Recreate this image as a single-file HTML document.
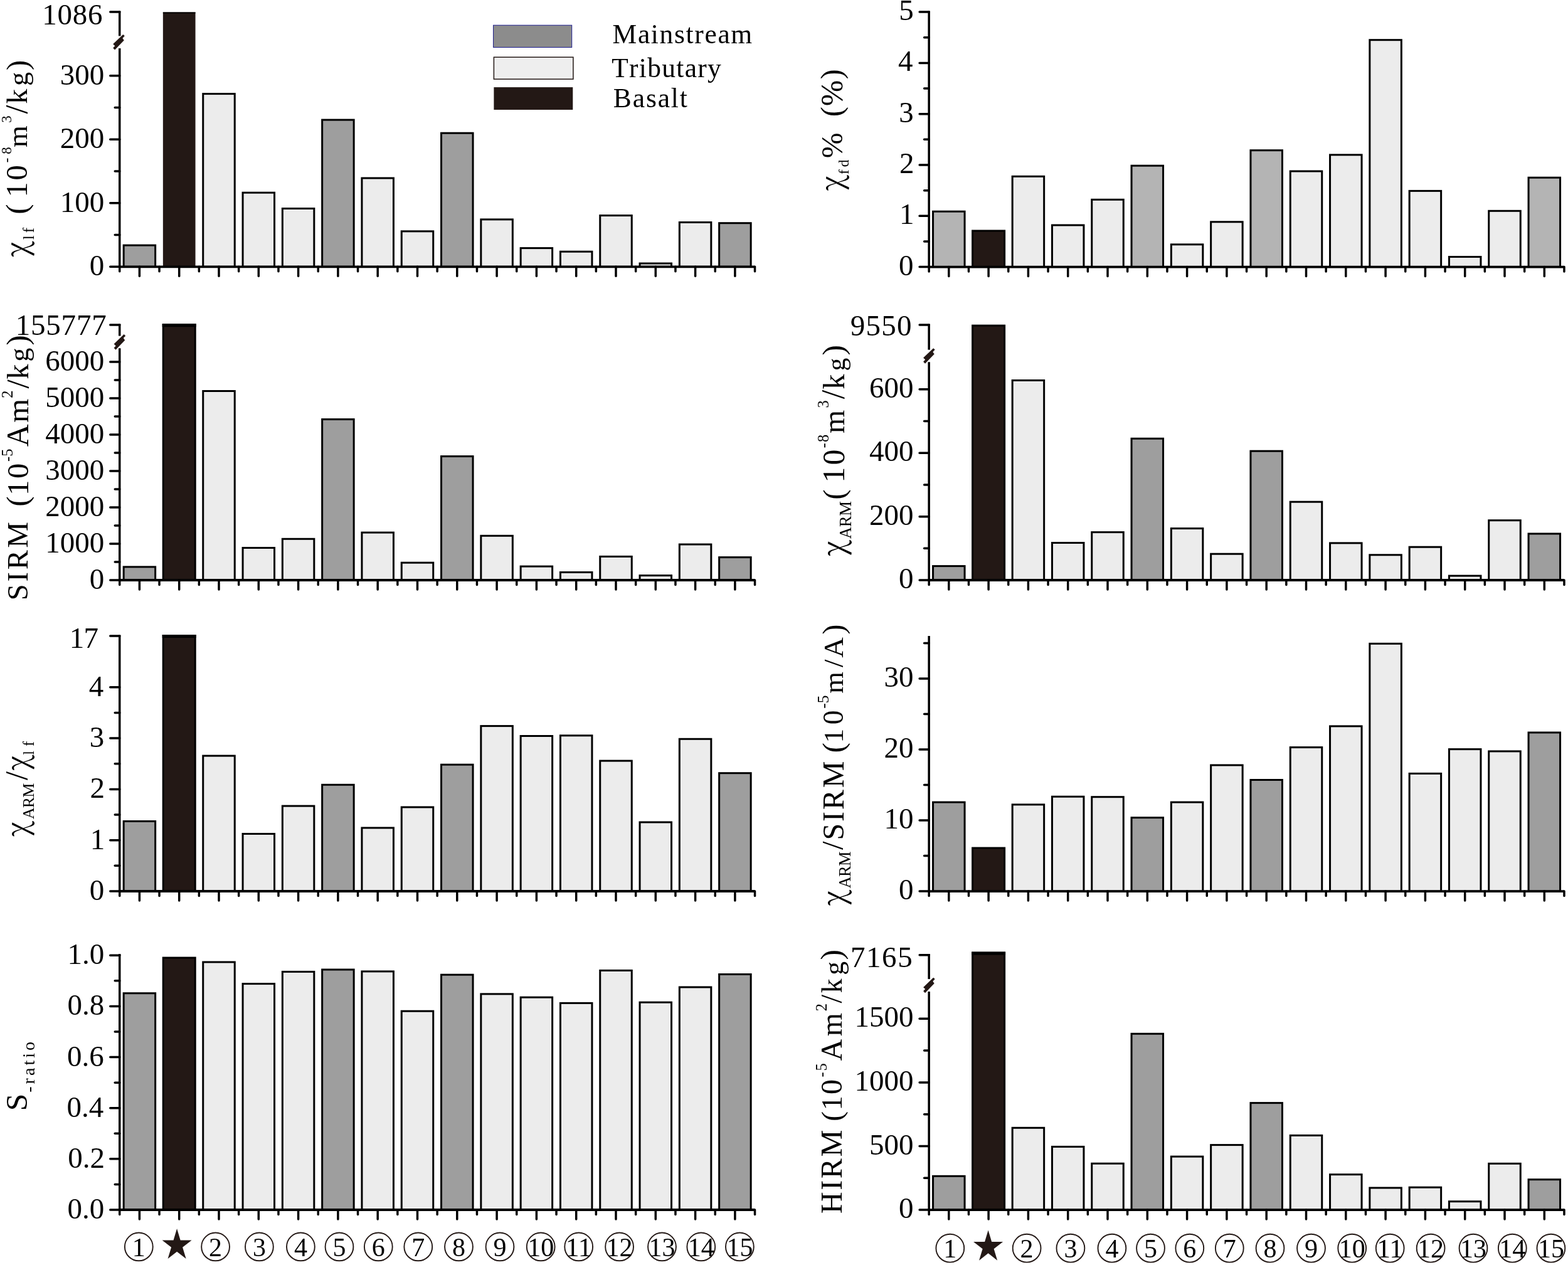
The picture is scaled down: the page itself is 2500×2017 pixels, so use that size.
<!DOCTYPE html>
<html><head><meta charset="utf-8"><title>Magnetic parameters</title>
<style>html,body{margin:0;padding:0;background:#fff;overflow:hidden;width:2500px;height:2017px}svg{display:block}text{font-family:'Liberation Serif', 'Times New Roman', serif;fill:#000}</style>
</head><body>
<svg xmlns="http://www.w3.org/2000/svg" width="2500" height="2017" viewBox="0 0 2500 2017">
<rect width="2500" height="2017" fill="#fff"/>
<rect x="197.15" y="391.10" width="50.5" height="34.25" fill="#9e9e9e" stroke="#000" stroke-width="3"/>
<rect x="259.85" y="19.50" width="51.7" height="405.85" fill="#231815"/>
<rect x="259.85" y="19.50" width="51.7" height="1.8" fill="#000"/>
<rect x="323.75" y="149.60" width="50.5" height="275.75" fill="#ececec" stroke="#000" stroke-width="3"/>
<rect x="387.05" y="307.20" width="50.5" height="118.15" fill="#ececec" stroke="#000" stroke-width="3"/>
<rect x="450.35" y="332.50" width="50.5" height="92.85" fill="#ececec" stroke="#000" stroke-width="3"/>
<rect x="513.65" y="191.10" width="50.5" height="234.25" fill="#9e9e9e" stroke="#000" stroke-width="3"/>
<rect x="576.95" y="284.00" width="50.5" height="141.35" fill="#ececec" stroke="#000" stroke-width="3"/>
<rect x="640.25" y="368.80" width="50.5" height="56.55" fill="#ececec" stroke="#000" stroke-width="3"/>
<rect x="703.55" y="212.20" width="50.5" height="213.15" fill="#9e9e9e" stroke="#000" stroke-width="3"/>
<rect x="766.85" y="349.90" width="50.5" height="75.45" fill="#ececec" stroke="#000" stroke-width="3"/>
<rect x="830.15" y="395.60" width="50.5" height="29.75" fill="#ececec" stroke="#000" stroke-width="3"/>
<rect x="893.45" y="401.20" width="50.5" height="24.15" fill="#ececec" stroke="#000" stroke-width="3"/>
<rect x="956.75" y="343.60" width="50.5" height="81.75" fill="#ececec" stroke="#000" stroke-width="3"/>
<rect x="1020.05" y="420.00" width="50.5" height="5.35" fill="#ececec" stroke="#000" stroke-width="3"/>
<rect x="1083.35" y="354.50" width="50.5" height="70.85" fill="#ececec" stroke="#000" stroke-width="3"/>
<rect x="1146.65" y="355.70" width="50.5" height="69.65" fill="#9e9e9e" stroke="#000" stroke-width="3"/>
<line x1="190.75" y1="425.35" x2="1203.55" y2="425.35" stroke="#000" stroke-width="3.9" stroke-linecap="butt"/>
<line x1="190.75" y1="425.35" x2="190.75" y2="432.85" stroke="#000" stroke-width="3.5" stroke-linecap="round"/>
<line x1="254.05" y1="425.35" x2="254.05" y2="432.85" stroke="#000" stroke-width="3.5" stroke-linecap="round"/>
<line x1="317.35" y1="425.35" x2="317.35" y2="432.85" stroke="#000" stroke-width="3.5" stroke-linecap="round"/>
<line x1="380.65" y1="425.35" x2="380.65" y2="432.85" stroke="#000" stroke-width="3.5" stroke-linecap="round"/>
<line x1="443.95" y1="425.35" x2="443.95" y2="432.85" stroke="#000" stroke-width="3.5" stroke-linecap="round"/>
<line x1="507.25" y1="425.35" x2="507.25" y2="432.85" stroke="#000" stroke-width="3.5" stroke-linecap="round"/>
<line x1="570.55" y1="425.35" x2="570.55" y2="432.85" stroke="#000" stroke-width="3.5" stroke-linecap="round"/>
<line x1="633.85" y1="425.35" x2="633.85" y2="432.85" stroke="#000" stroke-width="3.5" stroke-linecap="round"/>
<line x1="697.15" y1="425.35" x2="697.15" y2="432.85" stroke="#000" stroke-width="3.5" stroke-linecap="round"/>
<line x1="760.45" y1="425.35" x2="760.45" y2="432.85" stroke="#000" stroke-width="3.5" stroke-linecap="round"/>
<line x1="823.75" y1="425.35" x2="823.75" y2="432.85" stroke="#000" stroke-width="3.5" stroke-linecap="round"/>
<line x1="887.05" y1="425.35" x2="887.05" y2="432.85" stroke="#000" stroke-width="3.5" stroke-linecap="round"/>
<line x1="950.35" y1="425.35" x2="950.35" y2="432.85" stroke="#000" stroke-width="3.5" stroke-linecap="round"/>
<line x1="1013.65" y1="425.35" x2="1013.65" y2="432.85" stroke="#000" stroke-width="3.5" stroke-linecap="round"/>
<line x1="1076.95" y1="425.35" x2="1076.95" y2="432.85" stroke="#000" stroke-width="3.5" stroke-linecap="round"/>
<line x1="1140.25" y1="425.35" x2="1140.25" y2="432.85" stroke="#000" stroke-width="3.5" stroke-linecap="round"/>
<line x1="1203.55" y1="425.35" x2="1203.55" y2="432.85" stroke="#000" stroke-width="3.5" stroke-linecap="round"/>
<line x1="222.40" y1="425.35" x2="222.40" y2="440.35" stroke="#000" stroke-width="3.5" stroke-linecap="round"/>
<line x1="285.70" y1="425.35" x2="285.70" y2="440.35" stroke="#000" stroke-width="3.5" stroke-linecap="round"/>
<line x1="349.00" y1="425.35" x2="349.00" y2="440.35" stroke="#000" stroke-width="3.5" stroke-linecap="round"/>
<line x1="412.30" y1="425.35" x2="412.30" y2="440.35" stroke="#000" stroke-width="3.5" stroke-linecap="round"/>
<line x1="475.60" y1="425.35" x2="475.60" y2="440.35" stroke="#000" stroke-width="3.5" stroke-linecap="round"/>
<line x1="538.90" y1="425.35" x2="538.90" y2="440.35" stroke="#000" stroke-width="3.5" stroke-linecap="round"/>
<line x1="602.20" y1="425.35" x2="602.20" y2="440.35" stroke="#000" stroke-width="3.5" stroke-linecap="round"/>
<line x1="665.50" y1="425.35" x2="665.50" y2="440.35" stroke="#000" stroke-width="3.5" stroke-linecap="round"/>
<line x1="728.80" y1="425.35" x2="728.80" y2="440.35" stroke="#000" stroke-width="3.5" stroke-linecap="round"/>
<line x1="792.10" y1="425.35" x2="792.10" y2="440.35" stroke="#000" stroke-width="3.5" stroke-linecap="round"/>
<line x1="855.40" y1="425.35" x2="855.40" y2="440.35" stroke="#000" stroke-width="3.5" stroke-linecap="round"/>
<line x1="918.70" y1="425.35" x2="918.70" y2="440.35" stroke="#000" stroke-width="3.5" stroke-linecap="round"/>
<line x1="982.00" y1="425.35" x2="982.00" y2="440.35" stroke="#000" stroke-width="3.5" stroke-linecap="round"/>
<line x1="1045.30" y1="425.35" x2="1045.30" y2="440.35" stroke="#000" stroke-width="3.5" stroke-linecap="round"/>
<line x1="1108.60" y1="425.35" x2="1108.60" y2="440.35" stroke="#000" stroke-width="3.5" stroke-linecap="round"/>
<line x1="1171.90" y1="425.35" x2="1171.90" y2="440.35" stroke="#000" stroke-width="3.5" stroke-linecap="round"/>
<line x1="190.75" y1="17.50" x2="190.75" y2="57.40" stroke="#000" stroke-width="3.5" stroke-linecap="butt"/>
<line x1="190.75" y1="77.00" x2="190.75" y2="425.35" stroke="#000" stroke-width="3.5" stroke-linecap="butt"/>
<polygon points="196.20,54.90 198.80,57.20 195.40,60.90 197.80,64.20 183.10,79.50 180.20,76.50 183.30,73.20 180.20,70.30" fill="#231815"/>
<line x1="175.75" y1="425.35" x2="190.75" y2="425.35" stroke="#000" stroke-width="3.5" stroke-linecap="round"/>
<line x1="175.75" y1="323.83" x2="190.75" y2="323.83" stroke="#000" stroke-width="3.5" stroke-linecap="round"/>
<line x1="175.75" y1="222.32" x2="190.75" y2="222.32" stroke="#000" stroke-width="3.5" stroke-linecap="round"/>
<line x1="175.75" y1="120.80" x2="190.75" y2="120.80" stroke="#000" stroke-width="3.5" stroke-linecap="round"/>
<line x1="175.75" y1="19.00" x2="190.75" y2="19.00" stroke="#000" stroke-width="3.5" stroke-linecap="round"/>
<line x1="183.25" y1="374.59" x2="190.75" y2="374.59" stroke="#000" stroke-width="3.5" stroke-linecap="round"/>
<line x1="183.25" y1="273.08" x2="190.75" y2="273.08" stroke="#000" stroke-width="3.5" stroke-linecap="round"/>
<line x1="183.25" y1="171.56" x2="190.75" y2="171.56" stroke="#000" stroke-width="3.5" stroke-linecap="round"/>
<text x="142.69" y="439.35" font-size="47" fill="#000">0</text>
<text x="95.69" y="337.83" font-size="47" fill="#000">100</text>
<text x="95.69" y="236.32" font-size="47" fill="#000">200</text>
<text x="95.69" y="134.80" font-size="47" fill="#000">300</text>
<text x="67.27 91.51 115.76 140.00" y="39.40" font-size="47.00" style="font-family:'Liberation Serif', serif" fill="#231815">1086</text>
<rect x="197.15" y="903.90" width="50.5" height="21.15" fill="#9e9e9e" stroke="#000" stroke-width="3"/>
<rect x="260.20" y="517.70" width="51" height="407.35" fill="#231815" stroke="#000" stroke-width="3"/>
<rect x="258.70" y="516.20" width="54" height="5" fill="#000"/>
<rect x="323.75" y="623.50" width="50.5" height="301.55" fill="#ececec" stroke="#000" stroke-width="3"/>
<rect x="387.05" y="873.50" width="50.5" height="51.55" fill="#ececec" stroke="#000" stroke-width="3"/>
<rect x="450.35" y="859.30" width="50.5" height="65.75" fill="#ececec" stroke="#000" stroke-width="3"/>
<rect x="513.65" y="668.60" width="50.5" height="256.45" fill="#9e9e9e" stroke="#000" stroke-width="3"/>
<rect x="576.95" y="849.10" width="50.5" height="75.95" fill="#ececec" stroke="#000" stroke-width="3"/>
<rect x="640.25" y="897.20" width="50.5" height="27.85" fill="#ececec" stroke="#000" stroke-width="3"/>
<rect x="703.55" y="727.60" width="50.5" height="197.45" fill="#9e9e9e" stroke="#000" stroke-width="3"/>
<rect x="766.85" y="854.30" width="50.5" height="70.75" fill="#ececec" stroke="#000" stroke-width="3"/>
<rect x="830.15" y="903.10" width="50.5" height="21.95" fill="#ececec" stroke="#000" stroke-width="3"/>
<rect x="893.45" y="912.50" width="50.5" height="12.55" fill="#ececec" stroke="#000" stroke-width="3"/>
<rect x="956.75" y="887.40" width="50.5" height="37.65" fill="#ececec" stroke="#000" stroke-width="3"/>
<rect x="1020.05" y="917.60" width="50.5" height="7.45" fill="#ececec" stroke="#000" stroke-width="3"/>
<rect x="1083.35" y="868.00" width="50.5" height="57.05" fill="#ececec" stroke="#000" stroke-width="3"/>
<rect x="1146.65" y="888.60" width="50.5" height="36.45" fill="#9e9e9e" stroke="#000" stroke-width="3"/>
<line x1="190.75" y1="925.05" x2="1203.55" y2="925.05" stroke="#000" stroke-width="3.9" stroke-linecap="butt"/>
<line x1="190.75" y1="925.05" x2="190.75" y2="932.55" stroke="#000" stroke-width="3.5" stroke-linecap="round"/>
<line x1="254.05" y1="925.05" x2="254.05" y2="932.55" stroke="#000" stroke-width="3.5" stroke-linecap="round"/>
<line x1="317.35" y1="925.05" x2="317.35" y2="932.55" stroke="#000" stroke-width="3.5" stroke-linecap="round"/>
<line x1="380.65" y1="925.05" x2="380.65" y2="932.55" stroke="#000" stroke-width="3.5" stroke-linecap="round"/>
<line x1="443.95" y1="925.05" x2="443.95" y2="932.55" stroke="#000" stroke-width="3.5" stroke-linecap="round"/>
<line x1="507.25" y1="925.05" x2="507.25" y2="932.55" stroke="#000" stroke-width="3.5" stroke-linecap="round"/>
<line x1="570.55" y1="925.05" x2="570.55" y2="932.55" stroke="#000" stroke-width="3.5" stroke-linecap="round"/>
<line x1="633.85" y1="925.05" x2="633.85" y2="932.55" stroke="#000" stroke-width="3.5" stroke-linecap="round"/>
<line x1="697.15" y1="925.05" x2="697.15" y2="932.55" stroke="#000" stroke-width="3.5" stroke-linecap="round"/>
<line x1="760.45" y1="925.05" x2="760.45" y2="932.55" stroke="#000" stroke-width="3.5" stroke-linecap="round"/>
<line x1="823.75" y1="925.05" x2="823.75" y2="932.55" stroke="#000" stroke-width="3.5" stroke-linecap="round"/>
<line x1="887.05" y1="925.05" x2="887.05" y2="932.55" stroke="#000" stroke-width="3.5" stroke-linecap="round"/>
<line x1="950.35" y1="925.05" x2="950.35" y2="932.55" stroke="#000" stroke-width="3.5" stroke-linecap="round"/>
<line x1="1013.65" y1="925.05" x2="1013.65" y2="932.55" stroke="#000" stroke-width="3.5" stroke-linecap="round"/>
<line x1="1076.95" y1="925.05" x2="1076.95" y2="932.55" stroke="#000" stroke-width="3.5" stroke-linecap="round"/>
<line x1="1140.25" y1="925.05" x2="1140.25" y2="932.55" stroke="#000" stroke-width="3.5" stroke-linecap="round"/>
<line x1="1203.55" y1="925.05" x2="1203.55" y2="932.55" stroke="#000" stroke-width="3.5" stroke-linecap="round"/>
<line x1="222.40" y1="925.05" x2="222.40" y2="940.05" stroke="#000" stroke-width="3.5" stroke-linecap="round"/>
<line x1="285.70" y1="925.05" x2="285.70" y2="940.05" stroke="#000" stroke-width="3.5" stroke-linecap="round"/>
<line x1="349.00" y1="925.05" x2="349.00" y2="940.05" stroke="#000" stroke-width="3.5" stroke-linecap="round"/>
<line x1="412.30" y1="925.05" x2="412.30" y2="940.05" stroke="#000" stroke-width="3.5" stroke-linecap="round"/>
<line x1="475.60" y1="925.05" x2="475.60" y2="940.05" stroke="#000" stroke-width="3.5" stroke-linecap="round"/>
<line x1="538.90" y1="925.05" x2="538.90" y2="940.05" stroke="#000" stroke-width="3.5" stroke-linecap="round"/>
<line x1="602.20" y1="925.05" x2="602.20" y2="940.05" stroke="#000" stroke-width="3.5" stroke-linecap="round"/>
<line x1="665.50" y1="925.05" x2="665.50" y2="940.05" stroke="#000" stroke-width="3.5" stroke-linecap="round"/>
<line x1="728.80" y1="925.05" x2="728.80" y2="940.05" stroke="#000" stroke-width="3.5" stroke-linecap="round"/>
<line x1="792.10" y1="925.05" x2="792.10" y2="940.05" stroke="#000" stroke-width="3.5" stroke-linecap="round"/>
<line x1="855.40" y1="925.05" x2="855.40" y2="940.05" stroke="#000" stroke-width="3.5" stroke-linecap="round"/>
<line x1="918.70" y1="925.05" x2="918.70" y2="940.05" stroke="#000" stroke-width="3.5" stroke-linecap="round"/>
<line x1="982.00" y1="925.05" x2="982.00" y2="940.05" stroke="#000" stroke-width="3.5" stroke-linecap="round"/>
<line x1="1045.30" y1="925.05" x2="1045.30" y2="940.05" stroke="#000" stroke-width="3.5" stroke-linecap="round"/>
<line x1="1108.60" y1="925.05" x2="1108.60" y2="940.05" stroke="#000" stroke-width="3.5" stroke-linecap="round"/>
<line x1="1171.90" y1="925.05" x2="1171.90" y2="940.05" stroke="#000" stroke-width="3.5" stroke-linecap="round"/>
<line x1="190.75" y1="516.50" x2="190.75" y2="535.60" stroke="#000" stroke-width="3.5" stroke-linecap="butt"/>
<line x1="190.75" y1="555.20" x2="190.75" y2="925.05" stroke="#000" stroke-width="3.5" stroke-linecap="butt"/>
<polygon points="197.60,533.10 200.20,535.40 196.80,539.10 199.20,542.40 184.50,557.70 181.60,554.70 184.70,551.40 181.60,548.50" fill="#231815"/>
<line x1="175.75" y1="925.05" x2="190.75" y2="925.05" stroke="#000" stroke-width="3.5" stroke-linecap="round"/>
<line x1="175.75" y1="867.05" x2="190.75" y2="867.05" stroke="#000" stroke-width="3.5" stroke-linecap="round"/>
<line x1="175.75" y1="809.05" x2="190.75" y2="809.05" stroke="#000" stroke-width="3.5" stroke-linecap="round"/>
<line x1="175.75" y1="751.05" x2="190.75" y2="751.05" stroke="#000" stroke-width="3.5" stroke-linecap="round"/>
<line x1="175.75" y1="693.05" x2="190.75" y2="693.05" stroke="#000" stroke-width="3.5" stroke-linecap="round"/>
<line x1="175.75" y1="635.05" x2="190.75" y2="635.05" stroke="#000" stroke-width="3.5" stroke-linecap="round"/>
<line x1="175.75" y1="577.05" x2="190.75" y2="577.05" stroke="#000" stroke-width="3.5" stroke-linecap="round"/>
<line x1="175.75" y1="518.10" x2="190.75" y2="518.10" stroke="#000" stroke-width="3.5" stroke-linecap="round"/>
<line x1="183.25" y1="896.05" x2="190.75" y2="896.05" stroke="#000" stroke-width="3.5" stroke-linecap="round"/>
<line x1="183.25" y1="838.05" x2="190.75" y2="838.05" stroke="#000" stroke-width="3.5" stroke-linecap="round"/>
<line x1="183.25" y1="780.05" x2="190.75" y2="780.05" stroke="#000" stroke-width="3.5" stroke-linecap="round"/>
<line x1="183.25" y1="722.05" x2="190.75" y2="722.05" stroke="#000" stroke-width="3.5" stroke-linecap="round"/>
<line x1="183.25" y1="664.05" x2="190.75" y2="664.05" stroke="#000" stroke-width="3.5" stroke-linecap="round"/>
<line x1="183.25" y1="606.05" x2="190.75" y2="606.05" stroke="#000" stroke-width="3.5" stroke-linecap="round"/>
<text x="142.69" y="939.05" font-size="47" fill="#000">0</text>
<text x="72.19" y="881.05" font-size="47" fill="#000">1000</text>
<text x="72.19" y="823.05" font-size="47" fill="#000">2000</text>
<text x="72.19" y="765.05" font-size="47" fill="#000">3000</text>
<text x="72.19" y="707.05" font-size="47" fill="#000">4000</text>
<text x="72.19" y="649.05" font-size="47" fill="#000">5000</text>
<text x="72.19" y="591.05" font-size="47" fill="#000">6000</text>
<text x="24.67 48.99 73.30 97.62 121.94 146.25" y="533.90" font-size="47.00" style="font-family:'Liberation Serif', serif" fill="#231815">155777</text>
<rect x="197.15" y="1309.50" width="50.5" height="111.50" fill="#9e9e9e" stroke="#000" stroke-width="3"/>
<rect x="260.20" y="1013.50" width="51" height="407.50" fill="#231815" stroke="#000" stroke-width="3"/>
<rect x="258.70" y="1012.00" width="54" height="5" fill="#000"/>
<rect x="323.75" y="1205.10" width="50.5" height="215.90" fill="#ececec" stroke="#000" stroke-width="3"/>
<rect x="387.05" y="1329.50" width="50.5" height="91.50" fill="#ececec" stroke="#000" stroke-width="3"/>
<rect x="450.35" y="1285.10" width="50.5" height="135.90" fill="#ececec" stroke="#000" stroke-width="3"/>
<rect x="513.65" y="1251.30" width="50.5" height="169.70" fill="#9e9e9e" stroke="#000" stroke-width="3"/>
<rect x="576.95" y="1320.00" width="50.5" height="101.00" fill="#ececec" stroke="#000" stroke-width="3"/>
<rect x="640.25" y="1287.00" width="50.5" height="134.00" fill="#ececec" stroke="#000" stroke-width="3"/>
<rect x="703.55" y="1219.20" width="50.5" height="201.80" fill="#9e9e9e" stroke="#000" stroke-width="3"/>
<rect x="766.85" y="1157.60" width="50.5" height="263.40" fill="#ececec" stroke="#000" stroke-width="3"/>
<rect x="830.15" y="1173.50" width="50.5" height="247.50" fill="#ececec" stroke="#000" stroke-width="3"/>
<rect x="893.45" y="1172.80" width="50.5" height="248.20" fill="#ececec" stroke="#000" stroke-width="3"/>
<rect x="956.75" y="1213.10" width="50.5" height="207.90" fill="#ececec" stroke="#000" stroke-width="3"/>
<rect x="1020.05" y="1311.00" width="50.5" height="110.00" fill="#ececec" stroke="#000" stroke-width="3"/>
<rect x="1083.35" y="1178.30" width="50.5" height="242.70" fill="#ececec" stroke="#000" stroke-width="3"/>
<rect x="1146.65" y="1232.70" width="50.5" height="188.30" fill="#9e9e9e" stroke="#000" stroke-width="3"/>
<line x1="190.75" y1="1421.00" x2="1203.55" y2="1421.00" stroke="#000" stroke-width="3.9" stroke-linecap="butt"/>
<line x1="190.75" y1="1421.00" x2="190.75" y2="1428.50" stroke="#000" stroke-width="3.5" stroke-linecap="round"/>
<line x1="254.05" y1="1421.00" x2="254.05" y2="1428.50" stroke="#000" stroke-width="3.5" stroke-linecap="round"/>
<line x1="317.35" y1="1421.00" x2="317.35" y2="1428.50" stroke="#000" stroke-width="3.5" stroke-linecap="round"/>
<line x1="380.65" y1="1421.00" x2="380.65" y2="1428.50" stroke="#000" stroke-width="3.5" stroke-linecap="round"/>
<line x1="443.95" y1="1421.00" x2="443.95" y2="1428.50" stroke="#000" stroke-width="3.5" stroke-linecap="round"/>
<line x1="507.25" y1="1421.00" x2="507.25" y2="1428.50" stroke="#000" stroke-width="3.5" stroke-linecap="round"/>
<line x1="570.55" y1="1421.00" x2="570.55" y2="1428.50" stroke="#000" stroke-width="3.5" stroke-linecap="round"/>
<line x1="633.85" y1="1421.00" x2="633.85" y2="1428.50" stroke="#000" stroke-width="3.5" stroke-linecap="round"/>
<line x1="697.15" y1="1421.00" x2="697.15" y2="1428.50" stroke="#000" stroke-width="3.5" stroke-linecap="round"/>
<line x1="760.45" y1="1421.00" x2="760.45" y2="1428.50" stroke="#000" stroke-width="3.5" stroke-linecap="round"/>
<line x1="823.75" y1="1421.00" x2="823.75" y2="1428.50" stroke="#000" stroke-width="3.5" stroke-linecap="round"/>
<line x1="887.05" y1="1421.00" x2="887.05" y2="1428.50" stroke="#000" stroke-width="3.5" stroke-linecap="round"/>
<line x1="950.35" y1="1421.00" x2="950.35" y2="1428.50" stroke="#000" stroke-width="3.5" stroke-linecap="round"/>
<line x1="1013.65" y1="1421.00" x2="1013.65" y2="1428.50" stroke="#000" stroke-width="3.5" stroke-linecap="round"/>
<line x1="1076.95" y1="1421.00" x2="1076.95" y2="1428.50" stroke="#000" stroke-width="3.5" stroke-linecap="round"/>
<line x1="1140.25" y1="1421.00" x2="1140.25" y2="1428.50" stroke="#000" stroke-width="3.5" stroke-linecap="round"/>
<line x1="1203.55" y1="1421.00" x2="1203.55" y2="1428.50" stroke="#000" stroke-width="3.5" stroke-linecap="round"/>
<line x1="222.40" y1="1421.00" x2="222.40" y2="1436.00" stroke="#000" stroke-width="3.5" stroke-linecap="round"/>
<line x1="285.70" y1="1421.00" x2="285.70" y2="1436.00" stroke="#000" stroke-width="3.5" stroke-linecap="round"/>
<line x1="349.00" y1="1421.00" x2="349.00" y2="1436.00" stroke="#000" stroke-width="3.5" stroke-linecap="round"/>
<line x1="412.30" y1="1421.00" x2="412.30" y2="1436.00" stroke="#000" stroke-width="3.5" stroke-linecap="round"/>
<line x1="475.60" y1="1421.00" x2="475.60" y2="1436.00" stroke="#000" stroke-width="3.5" stroke-linecap="round"/>
<line x1="538.90" y1="1421.00" x2="538.90" y2="1436.00" stroke="#000" stroke-width="3.5" stroke-linecap="round"/>
<line x1="602.20" y1="1421.00" x2="602.20" y2="1436.00" stroke="#000" stroke-width="3.5" stroke-linecap="round"/>
<line x1="665.50" y1="1421.00" x2="665.50" y2="1436.00" stroke="#000" stroke-width="3.5" stroke-linecap="round"/>
<line x1="728.80" y1="1421.00" x2="728.80" y2="1436.00" stroke="#000" stroke-width="3.5" stroke-linecap="round"/>
<line x1="792.10" y1="1421.00" x2="792.10" y2="1436.00" stroke="#000" stroke-width="3.5" stroke-linecap="round"/>
<line x1="855.40" y1="1421.00" x2="855.40" y2="1436.00" stroke="#000" stroke-width="3.5" stroke-linecap="round"/>
<line x1="918.70" y1="1421.00" x2="918.70" y2="1436.00" stroke="#000" stroke-width="3.5" stroke-linecap="round"/>
<line x1="982.00" y1="1421.00" x2="982.00" y2="1436.00" stroke="#000" stroke-width="3.5" stroke-linecap="round"/>
<line x1="1045.30" y1="1421.00" x2="1045.30" y2="1436.00" stroke="#000" stroke-width="3.5" stroke-linecap="round"/>
<line x1="1108.60" y1="1421.00" x2="1108.60" y2="1436.00" stroke="#000" stroke-width="3.5" stroke-linecap="round"/>
<line x1="1171.90" y1="1421.00" x2="1171.90" y2="1436.00" stroke="#000" stroke-width="3.5" stroke-linecap="round"/>
<line x1="190.75" y1="1012.50" x2="190.75" y2="1421.00" stroke="#000" stroke-width="3.5" stroke-linecap="butt"/>
<line x1="175.75" y1="1421.00" x2="190.75" y2="1421.00" stroke="#000" stroke-width="3.5" stroke-linecap="round"/>
<line x1="175.75" y1="1339.70" x2="190.75" y2="1339.70" stroke="#000" stroke-width="3.5" stroke-linecap="round"/>
<line x1="175.75" y1="1258.40" x2="190.75" y2="1258.40" stroke="#000" stroke-width="3.5" stroke-linecap="round"/>
<line x1="175.75" y1="1177.10" x2="190.75" y2="1177.10" stroke="#000" stroke-width="3.5" stroke-linecap="round"/>
<line x1="175.75" y1="1095.80" x2="190.75" y2="1095.80" stroke="#000" stroke-width="3.5" stroke-linecap="round"/>
<line x1="175.75" y1="1014.10" x2="190.75" y2="1014.10" stroke="#000" stroke-width="3.5" stroke-linecap="round"/>
<line x1="183.25" y1="1380.35" x2="190.75" y2="1380.35" stroke="#000" stroke-width="3.5" stroke-linecap="round"/>
<line x1="183.25" y1="1299.05" x2="190.75" y2="1299.05" stroke="#000" stroke-width="3.5" stroke-linecap="round"/>
<line x1="183.25" y1="1217.75" x2="190.75" y2="1217.75" stroke="#000" stroke-width="3.5" stroke-linecap="round"/>
<line x1="183.25" y1="1136.45" x2="190.75" y2="1136.45" stroke="#000" stroke-width="3.5" stroke-linecap="round"/>
<text x="142.69" y="1435.00" font-size="47" fill="#000">0</text>
<text x="143.72" y="1353.70" font-size="47" fill="#000">1</text>
<text x="143.49" y="1272.40" font-size="47" fill="#000">2</text>
<text x="142.74" y="1191.10" font-size="47" fill="#000">3</text>
<text x="141.63" y="1109.80" font-size="47" fill="#000">4</text>
<text x="110.67 133.55" y="1032.70" font-size="47.00" style="font-family:'Liberation Serif', serif" fill="#231815">17</text>
<rect x="197.15" y="1583.70" width="50.5" height="345.30" fill="#9e9e9e" stroke="#000" stroke-width="3"/>
<rect x="260.20" y="1527.10" width="51" height="401.90" fill="#231815" stroke="#000" stroke-width="3"/>
<rect x="323.75" y="1534.00" width="50.5" height="395.00" fill="#ececec" stroke="#000" stroke-width="3"/>
<rect x="387.05" y="1568.60" width="50.5" height="360.40" fill="#ececec" stroke="#000" stroke-width="3"/>
<rect x="450.35" y="1549.40" width="50.5" height="379.60" fill="#ececec" stroke="#000" stroke-width="3"/>
<rect x="513.65" y="1546.00" width="50.5" height="383.00" fill="#9e9e9e" stroke="#000" stroke-width="3"/>
<rect x="576.95" y="1548.90" width="50.5" height="380.10" fill="#ececec" stroke="#000" stroke-width="3"/>
<rect x="640.25" y="1612.20" width="50.5" height="316.80" fill="#ececec" stroke="#000" stroke-width="3"/>
<rect x="703.55" y="1554.20" width="50.5" height="374.80" fill="#9e9e9e" stroke="#000" stroke-width="3"/>
<rect x="766.85" y="1584.90" width="50.5" height="344.10" fill="#ececec" stroke="#000" stroke-width="3"/>
<rect x="830.15" y="1590.20" width="50.5" height="338.80" fill="#ececec" stroke="#000" stroke-width="3"/>
<rect x="893.45" y="1599.40" width="50.5" height="329.60" fill="#ececec" stroke="#000" stroke-width="3"/>
<rect x="956.75" y="1547.40" width="50.5" height="381.60" fill="#ececec" stroke="#000" stroke-width="3"/>
<rect x="1020.05" y="1598.20" width="50.5" height="330.80" fill="#ececec" stroke="#000" stroke-width="3"/>
<rect x="1083.35" y="1574.00" width="50.5" height="355.00" fill="#ececec" stroke="#000" stroke-width="3"/>
<rect x="1146.65" y="1553.50" width="50.5" height="375.50" fill="#9e9e9e" stroke="#000" stroke-width="3"/>
<line x1="190.75" y1="1929.00" x2="1203.55" y2="1929.00" stroke="#000" stroke-width="3.9" stroke-linecap="butt"/>
<line x1="190.75" y1="1929.00" x2="190.75" y2="1936.50" stroke="#000" stroke-width="3.5" stroke-linecap="round"/>
<line x1="254.05" y1="1929.00" x2="254.05" y2="1936.50" stroke="#000" stroke-width="3.5" stroke-linecap="round"/>
<line x1="317.35" y1="1929.00" x2="317.35" y2="1936.50" stroke="#000" stroke-width="3.5" stroke-linecap="round"/>
<line x1="380.65" y1="1929.00" x2="380.65" y2="1936.50" stroke="#000" stroke-width="3.5" stroke-linecap="round"/>
<line x1="443.95" y1="1929.00" x2="443.95" y2="1936.50" stroke="#000" stroke-width="3.5" stroke-linecap="round"/>
<line x1="507.25" y1="1929.00" x2="507.25" y2="1936.50" stroke="#000" stroke-width="3.5" stroke-linecap="round"/>
<line x1="570.55" y1="1929.00" x2="570.55" y2="1936.50" stroke="#000" stroke-width="3.5" stroke-linecap="round"/>
<line x1="633.85" y1="1929.00" x2="633.85" y2="1936.50" stroke="#000" stroke-width="3.5" stroke-linecap="round"/>
<line x1="697.15" y1="1929.00" x2="697.15" y2="1936.50" stroke="#000" stroke-width="3.5" stroke-linecap="round"/>
<line x1="760.45" y1="1929.00" x2="760.45" y2="1936.50" stroke="#000" stroke-width="3.5" stroke-linecap="round"/>
<line x1="823.75" y1="1929.00" x2="823.75" y2="1936.50" stroke="#000" stroke-width="3.5" stroke-linecap="round"/>
<line x1="887.05" y1="1929.00" x2="887.05" y2="1936.50" stroke="#000" stroke-width="3.5" stroke-linecap="round"/>
<line x1="950.35" y1="1929.00" x2="950.35" y2="1936.50" stroke="#000" stroke-width="3.5" stroke-linecap="round"/>
<line x1="1013.65" y1="1929.00" x2="1013.65" y2="1936.50" stroke="#000" stroke-width="3.5" stroke-linecap="round"/>
<line x1="1076.95" y1="1929.00" x2="1076.95" y2="1936.50" stroke="#000" stroke-width="3.5" stroke-linecap="round"/>
<line x1="1140.25" y1="1929.00" x2="1140.25" y2="1936.50" stroke="#000" stroke-width="3.5" stroke-linecap="round"/>
<line x1="1203.55" y1="1929.00" x2="1203.55" y2="1936.50" stroke="#000" stroke-width="3.5" stroke-linecap="round"/>
<line x1="222.40" y1="1929.00" x2="222.40" y2="1944.00" stroke="#000" stroke-width="3.5" stroke-linecap="round"/>
<line x1="285.70" y1="1929.00" x2="285.70" y2="1944.00" stroke="#000" stroke-width="3.5" stroke-linecap="round"/>
<line x1="349.00" y1="1929.00" x2="349.00" y2="1944.00" stroke="#000" stroke-width="3.5" stroke-linecap="round"/>
<line x1="412.30" y1="1929.00" x2="412.30" y2="1944.00" stroke="#000" stroke-width="3.5" stroke-linecap="round"/>
<line x1="475.60" y1="1929.00" x2="475.60" y2="1944.00" stroke="#000" stroke-width="3.5" stroke-linecap="round"/>
<line x1="538.90" y1="1929.00" x2="538.90" y2="1944.00" stroke="#000" stroke-width="3.5" stroke-linecap="round"/>
<line x1="602.20" y1="1929.00" x2="602.20" y2="1944.00" stroke="#000" stroke-width="3.5" stroke-linecap="round"/>
<line x1="665.50" y1="1929.00" x2="665.50" y2="1944.00" stroke="#000" stroke-width="3.5" stroke-linecap="round"/>
<line x1="728.80" y1="1929.00" x2="728.80" y2="1944.00" stroke="#000" stroke-width="3.5" stroke-linecap="round"/>
<line x1="792.10" y1="1929.00" x2="792.10" y2="1944.00" stroke="#000" stroke-width="3.5" stroke-linecap="round"/>
<line x1="855.40" y1="1929.00" x2="855.40" y2="1944.00" stroke="#000" stroke-width="3.5" stroke-linecap="round"/>
<line x1="918.70" y1="1929.00" x2="918.70" y2="1944.00" stroke="#000" stroke-width="3.5" stroke-linecap="round"/>
<line x1="982.00" y1="1929.00" x2="982.00" y2="1944.00" stroke="#000" stroke-width="3.5" stroke-linecap="round"/>
<line x1="1045.30" y1="1929.00" x2="1045.30" y2="1944.00" stroke="#000" stroke-width="3.5" stroke-linecap="round"/>
<line x1="1108.60" y1="1929.00" x2="1108.60" y2="1944.00" stroke="#000" stroke-width="3.5" stroke-linecap="round"/>
<line x1="1171.90" y1="1929.00" x2="1171.90" y2="1944.00" stroke="#000" stroke-width="3.5" stroke-linecap="round"/>
<line x1="190.75" y1="1521.00" x2="190.75" y2="1929.00" stroke="#000" stroke-width="3.5" stroke-linecap="butt"/>
<line x1="175.75" y1="1929.00" x2="190.75" y2="1929.00" stroke="#000" stroke-width="3.5" stroke-linecap="round"/>
<line x1="175.75" y1="1847.86" x2="190.75" y2="1847.86" stroke="#000" stroke-width="3.5" stroke-linecap="round"/>
<line x1="175.75" y1="1766.72" x2="190.75" y2="1766.72" stroke="#000" stroke-width="3.5" stroke-linecap="round"/>
<line x1="175.75" y1="1685.58" x2="190.75" y2="1685.58" stroke="#000" stroke-width="3.5" stroke-linecap="round"/>
<line x1="175.75" y1="1604.44" x2="190.75" y2="1604.44" stroke="#000" stroke-width="3.5" stroke-linecap="round"/>
<line x1="175.75" y1="1523.30" x2="190.75" y2="1523.30" stroke="#000" stroke-width="3.5" stroke-linecap="round"/>
<line x1="183.25" y1="1888.43" x2="190.75" y2="1888.43" stroke="#000" stroke-width="3.5" stroke-linecap="round"/>
<line x1="183.25" y1="1807.29" x2="190.75" y2="1807.29" stroke="#000" stroke-width="3.5" stroke-linecap="round"/>
<line x1="183.25" y1="1726.15" x2="190.75" y2="1726.15" stroke="#000" stroke-width="3.5" stroke-linecap="round"/>
<line x1="183.25" y1="1645.01" x2="190.75" y2="1645.01" stroke="#000" stroke-width="3.5" stroke-linecap="round"/>
<line x1="183.25" y1="1563.87" x2="190.75" y2="1563.87" stroke="#000" stroke-width="3.5" stroke-linecap="round"/>
<text x="107.44" y="1943.00" font-size="47" fill="#000">0.0</text>
<text x="108.24" y="1861.86" font-size="47" fill="#000">0.2</text>
<text x="106.38" y="1780.72" font-size="47" fill="#000">0.4</text>
<text x="107.05" y="1699.58" font-size="47" fill="#000">0.6</text>
<text x="107.44" y="1618.44" font-size="47" fill="#000">0.8</text>
<text x="107.44" y="1537.30" font-size="47" fill="#000">1.0</text>
<rect x="1487.55" y="337.20" width="50.5" height="88.40" fill="#b4b4b4" stroke="#000" stroke-width="3"/>
<rect x="1550.60" y="368.00" width="51" height="57.60" fill="#231815" stroke="#000" stroke-width="3"/>
<rect x="1614.15" y="281.30" width="50.5" height="144.30" fill="#ececec" stroke="#000" stroke-width="3"/>
<rect x="1677.45" y="359.00" width="50.5" height="66.60" fill="#ececec" stroke="#000" stroke-width="3"/>
<rect x="1740.75" y="318.30" width="50.5" height="107.30" fill="#ececec" stroke="#000" stroke-width="3"/>
<rect x="1804.05" y="264.20" width="50.5" height="161.40" fill="#b4b4b4" stroke="#000" stroke-width="3"/>
<rect x="1867.35" y="389.80" width="50.5" height="35.80" fill="#ececec" stroke="#000" stroke-width="3"/>
<rect x="1930.65" y="353.80" width="50.5" height="71.80" fill="#ececec" stroke="#000" stroke-width="3"/>
<rect x="1993.95" y="239.70" width="50.5" height="185.90" fill="#b4b4b4" stroke="#000" stroke-width="3"/>
<rect x="2057.25" y="273.00" width="50.5" height="152.60" fill="#ececec" stroke="#000" stroke-width="3"/>
<rect x="2120.55" y="246.90" width="50.5" height="178.70" fill="#ececec" stroke="#000" stroke-width="3"/>
<rect x="2183.85" y="63.70" width="50.5" height="361.90" fill="#ececec" stroke="#000" stroke-width="3"/>
<rect x="2247.15" y="304.40" width="50.5" height="121.20" fill="#ececec" stroke="#000" stroke-width="3"/>
<rect x="2310.45" y="409.50" width="50.5" height="16.10" fill="#ececec" stroke="#000" stroke-width="3"/>
<rect x="2373.75" y="336.30" width="50.5" height="89.30" fill="#ececec" stroke="#000" stroke-width="3"/>
<rect x="2437.05" y="283.20" width="50.5" height="142.40" fill="#b4b4b4" stroke="#000" stroke-width="3"/>
<line x1="1481.15" y1="425.60" x2="2493.95" y2="425.60" stroke="#000" stroke-width="3.9" stroke-linecap="butt"/>
<line x1="1481.15" y1="425.60" x2="1481.15" y2="433.10" stroke="#000" stroke-width="3.5" stroke-linecap="round"/>
<line x1="1544.45" y1="425.60" x2="1544.45" y2="433.10" stroke="#000" stroke-width="3.5" stroke-linecap="round"/>
<line x1="1607.75" y1="425.60" x2="1607.75" y2="433.10" stroke="#000" stroke-width="3.5" stroke-linecap="round"/>
<line x1="1671.05" y1="425.60" x2="1671.05" y2="433.10" stroke="#000" stroke-width="3.5" stroke-linecap="round"/>
<line x1="1734.35" y1="425.60" x2="1734.35" y2="433.10" stroke="#000" stroke-width="3.5" stroke-linecap="round"/>
<line x1="1797.65" y1="425.60" x2="1797.65" y2="433.10" stroke="#000" stroke-width="3.5" stroke-linecap="round"/>
<line x1="1860.95" y1="425.60" x2="1860.95" y2="433.10" stroke="#000" stroke-width="3.5" stroke-linecap="round"/>
<line x1="1924.25" y1="425.60" x2="1924.25" y2="433.10" stroke="#000" stroke-width="3.5" stroke-linecap="round"/>
<line x1="1987.55" y1="425.60" x2="1987.55" y2="433.10" stroke="#000" stroke-width="3.5" stroke-linecap="round"/>
<line x1="2050.85" y1="425.60" x2="2050.85" y2="433.10" stroke="#000" stroke-width="3.5" stroke-linecap="round"/>
<line x1="2114.15" y1="425.60" x2="2114.15" y2="433.10" stroke="#000" stroke-width="3.5" stroke-linecap="round"/>
<line x1="2177.45" y1="425.60" x2="2177.45" y2="433.10" stroke="#000" stroke-width="3.5" stroke-linecap="round"/>
<line x1="2240.75" y1="425.60" x2="2240.75" y2="433.10" stroke="#000" stroke-width="3.5" stroke-linecap="round"/>
<line x1="2304.05" y1="425.60" x2="2304.05" y2="433.10" stroke="#000" stroke-width="3.5" stroke-linecap="round"/>
<line x1="2367.35" y1="425.60" x2="2367.35" y2="433.10" stroke="#000" stroke-width="3.5" stroke-linecap="round"/>
<line x1="2430.65" y1="425.60" x2="2430.65" y2="433.10" stroke="#000" stroke-width="3.5" stroke-linecap="round"/>
<line x1="2493.95" y1="425.60" x2="2493.95" y2="433.10" stroke="#000" stroke-width="3.5" stroke-linecap="round"/>
<line x1="1512.80" y1="425.60" x2="1512.80" y2="440.60" stroke="#000" stroke-width="3.5" stroke-linecap="round"/>
<line x1="1576.10" y1="425.60" x2="1576.10" y2="440.60" stroke="#000" stroke-width="3.5" stroke-linecap="round"/>
<line x1="1639.40" y1="425.60" x2="1639.40" y2="440.60" stroke="#000" stroke-width="3.5" stroke-linecap="round"/>
<line x1="1702.70" y1="425.60" x2="1702.70" y2="440.60" stroke="#000" stroke-width="3.5" stroke-linecap="round"/>
<line x1="1766.00" y1="425.60" x2="1766.00" y2="440.60" stroke="#000" stroke-width="3.5" stroke-linecap="round"/>
<line x1="1829.30" y1="425.60" x2="1829.30" y2="440.60" stroke="#000" stroke-width="3.5" stroke-linecap="round"/>
<line x1="1892.60" y1="425.60" x2="1892.60" y2="440.60" stroke="#000" stroke-width="3.5" stroke-linecap="round"/>
<line x1="1955.90" y1="425.60" x2="1955.90" y2="440.60" stroke="#000" stroke-width="3.5" stroke-linecap="round"/>
<line x1="2019.20" y1="425.60" x2="2019.20" y2="440.60" stroke="#000" stroke-width="3.5" stroke-linecap="round"/>
<line x1="2082.50" y1="425.60" x2="2082.50" y2="440.60" stroke="#000" stroke-width="3.5" stroke-linecap="round"/>
<line x1="2145.80" y1="425.60" x2="2145.80" y2="440.60" stroke="#000" stroke-width="3.5" stroke-linecap="round"/>
<line x1="2209.10" y1="425.60" x2="2209.10" y2="440.60" stroke="#000" stroke-width="3.5" stroke-linecap="round"/>
<line x1="2272.40" y1="425.60" x2="2272.40" y2="440.60" stroke="#000" stroke-width="3.5" stroke-linecap="round"/>
<line x1="2335.70" y1="425.60" x2="2335.70" y2="440.60" stroke="#000" stroke-width="3.5" stroke-linecap="round"/>
<line x1="2399.00" y1="425.60" x2="2399.00" y2="440.60" stroke="#000" stroke-width="3.5" stroke-linecap="round"/>
<line x1="2462.30" y1="425.60" x2="2462.30" y2="440.60" stroke="#000" stroke-width="3.5" stroke-linecap="round"/>
<line x1="1481.15" y1="17.50" x2="1481.15" y2="425.60" stroke="#000" stroke-width="3.5" stroke-linecap="butt"/>
<line x1="1466.15" y1="425.60" x2="1481.15" y2="425.60" stroke="#000" stroke-width="3.5" stroke-linecap="round"/>
<line x1="1466.15" y1="344.30" x2="1481.15" y2="344.30" stroke="#000" stroke-width="3.5" stroke-linecap="round"/>
<line x1="1466.15" y1="263.00" x2="1481.15" y2="263.00" stroke="#000" stroke-width="3.5" stroke-linecap="round"/>
<line x1="1466.15" y1="181.70" x2="1481.15" y2="181.70" stroke="#000" stroke-width="3.5" stroke-linecap="round"/>
<line x1="1466.15" y1="100.40" x2="1481.15" y2="100.40" stroke="#000" stroke-width="3.5" stroke-linecap="round"/>
<line x1="1466.15" y1="19.10" x2="1481.15" y2="19.10" stroke="#000" stroke-width="3.5" stroke-linecap="round"/>
<line x1="1473.65" y1="384.95" x2="1481.15" y2="384.95" stroke="#000" stroke-width="3.5" stroke-linecap="round"/>
<line x1="1473.65" y1="303.65" x2="1481.15" y2="303.65" stroke="#000" stroke-width="3.5" stroke-linecap="round"/>
<line x1="1473.65" y1="222.35" x2="1481.15" y2="222.35" stroke="#000" stroke-width="3.5" stroke-linecap="round"/>
<line x1="1473.65" y1="141.05" x2="1481.15" y2="141.05" stroke="#000" stroke-width="3.5" stroke-linecap="round"/>
<line x1="1473.65" y1="59.75" x2="1481.15" y2="59.75" stroke="#000" stroke-width="3.5" stroke-linecap="round"/>
<text x="1433.09" y="438.60" font-size="47" fill="#000">0</text>
<text x="1434.12" y="357.30" font-size="47" fill="#000">1</text>
<text x="1433.89" y="276.00" font-size="47" fill="#000">2</text>
<text x="1433.14" y="194.70" font-size="47" fill="#000">3</text>
<text x="1432.03" y="113.40" font-size="47" fill="#000">4</text>
<text x="1433.14" y="32.10" font-size="47" fill="#000">5</text>
<rect x="1487.55" y="902.60" width="50.5" height="22.45" fill="#9e9e9e" stroke="#000" stroke-width="3"/>
<rect x="1550.60" y="519.10" width="51" height="405.95" fill="#231815" stroke="#000" stroke-width="3"/>
<rect x="1614.15" y="606.50" width="50.5" height="318.55" fill="#ececec" stroke="#000" stroke-width="3"/>
<rect x="1677.45" y="865.50" width="50.5" height="59.55" fill="#ececec" stroke="#000" stroke-width="3"/>
<rect x="1740.75" y="848.60" width="50.5" height="76.45" fill="#ececec" stroke="#000" stroke-width="3"/>
<rect x="1804.05" y="699.30" width="50.5" height="225.75" fill="#9e9e9e" stroke="#000" stroke-width="3"/>
<rect x="1867.35" y="842.60" width="50.5" height="82.45" fill="#ececec" stroke="#000" stroke-width="3"/>
<rect x="1930.65" y="883.20" width="50.5" height="41.85" fill="#ececec" stroke="#000" stroke-width="3"/>
<rect x="1993.95" y="719.20" width="50.5" height="205.85" fill="#9e9e9e" stroke="#000" stroke-width="3"/>
<rect x="2057.25" y="800.20" width="50.5" height="124.85" fill="#ececec" stroke="#000" stroke-width="3"/>
<rect x="2120.55" y="865.90" width="50.5" height="59.15" fill="#ececec" stroke="#000" stroke-width="3"/>
<rect x="2183.85" y="884.80" width="50.5" height="40.25" fill="#ececec" stroke="#000" stroke-width="3"/>
<rect x="2247.15" y="872.20" width="50.5" height="52.85" fill="#ececec" stroke="#000" stroke-width="3"/>
<rect x="2310.45" y="918.10" width="50.5" height="6.95" fill="#ececec" stroke="#000" stroke-width="3"/>
<rect x="2373.75" y="829.70" width="50.5" height="95.35" fill="#ececec" stroke="#000" stroke-width="3"/>
<rect x="2437.05" y="851.00" width="50.5" height="74.05" fill="#9e9e9e" stroke="#000" stroke-width="3"/>
<line x1="1481.15" y1="925.05" x2="2493.95" y2="925.05" stroke="#000" stroke-width="3.9" stroke-linecap="butt"/>
<line x1="1481.15" y1="925.05" x2="1481.15" y2="932.55" stroke="#000" stroke-width="3.5" stroke-linecap="round"/>
<line x1="1544.45" y1="925.05" x2="1544.45" y2="932.55" stroke="#000" stroke-width="3.5" stroke-linecap="round"/>
<line x1="1607.75" y1="925.05" x2="1607.75" y2="932.55" stroke="#000" stroke-width="3.5" stroke-linecap="round"/>
<line x1="1671.05" y1="925.05" x2="1671.05" y2="932.55" stroke="#000" stroke-width="3.5" stroke-linecap="round"/>
<line x1="1734.35" y1="925.05" x2="1734.35" y2="932.55" stroke="#000" stroke-width="3.5" stroke-linecap="round"/>
<line x1="1797.65" y1="925.05" x2="1797.65" y2="932.55" stroke="#000" stroke-width="3.5" stroke-linecap="round"/>
<line x1="1860.95" y1="925.05" x2="1860.95" y2="932.55" stroke="#000" stroke-width="3.5" stroke-linecap="round"/>
<line x1="1924.25" y1="925.05" x2="1924.25" y2="932.55" stroke="#000" stroke-width="3.5" stroke-linecap="round"/>
<line x1="1987.55" y1="925.05" x2="1987.55" y2="932.55" stroke="#000" stroke-width="3.5" stroke-linecap="round"/>
<line x1="2050.85" y1="925.05" x2="2050.85" y2="932.55" stroke="#000" stroke-width="3.5" stroke-linecap="round"/>
<line x1="2114.15" y1="925.05" x2="2114.15" y2="932.55" stroke="#000" stroke-width="3.5" stroke-linecap="round"/>
<line x1="2177.45" y1="925.05" x2="2177.45" y2="932.55" stroke="#000" stroke-width="3.5" stroke-linecap="round"/>
<line x1="2240.75" y1="925.05" x2="2240.75" y2="932.55" stroke="#000" stroke-width="3.5" stroke-linecap="round"/>
<line x1="2304.05" y1="925.05" x2="2304.05" y2="932.55" stroke="#000" stroke-width="3.5" stroke-linecap="round"/>
<line x1="2367.35" y1="925.05" x2="2367.35" y2="932.55" stroke="#000" stroke-width="3.5" stroke-linecap="round"/>
<line x1="2430.65" y1="925.05" x2="2430.65" y2="932.55" stroke="#000" stroke-width="3.5" stroke-linecap="round"/>
<line x1="2493.95" y1="925.05" x2="2493.95" y2="932.55" stroke="#000" stroke-width="3.5" stroke-linecap="round"/>
<line x1="1512.80" y1="925.05" x2="1512.80" y2="940.05" stroke="#000" stroke-width="3.5" stroke-linecap="round"/>
<line x1="1576.10" y1="925.05" x2="1576.10" y2="940.05" stroke="#000" stroke-width="3.5" stroke-linecap="round"/>
<line x1="1639.40" y1="925.05" x2="1639.40" y2="940.05" stroke="#000" stroke-width="3.5" stroke-linecap="round"/>
<line x1="1702.70" y1="925.05" x2="1702.70" y2="940.05" stroke="#000" stroke-width="3.5" stroke-linecap="round"/>
<line x1="1766.00" y1="925.05" x2="1766.00" y2="940.05" stroke="#000" stroke-width="3.5" stroke-linecap="round"/>
<line x1="1829.30" y1="925.05" x2="1829.30" y2="940.05" stroke="#000" stroke-width="3.5" stroke-linecap="round"/>
<line x1="1892.60" y1="925.05" x2="1892.60" y2="940.05" stroke="#000" stroke-width="3.5" stroke-linecap="round"/>
<line x1="1955.90" y1="925.05" x2="1955.90" y2="940.05" stroke="#000" stroke-width="3.5" stroke-linecap="round"/>
<line x1="2019.20" y1="925.05" x2="2019.20" y2="940.05" stroke="#000" stroke-width="3.5" stroke-linecap="round"/>
<line x1="2082.50" y1="925.05" x2="2082.50" y2="940.05" stroke="#000" stroke-width="3.5" stroke-linecap="round"/>
<line x1="2145.80" y1="925.05" x2="2145.80" y2="940.05" stroke="#000" stroke-width="3.5" stroke-linecap="round"/>
<line x1="2209.10" y1="925.05" x2="2209.10" y2="940.05" stroke="#000" stroke-width="3.5" stroke-linecap="round"/>
<line x1="2272.40" y1="925.05" x2="2272.40" y2="940.05" stroke="#000" stroke-width="3.5" stroke-linecap="round"/>
<line x1="2335.70" y1="925.05" x2="2335.70" y2="940.05" stroke="#000" stroke-width="3.5" stroke-linecap="round"/>
<line x1="2399.00" y1="925.05" x2="2399.00" y2="940.05" stroke="#000" stroke-width="3.5" stroke-linecap="round"/>
<line x1="2462.30" y1="925.05" x2="2462.30" y2="940.05" stroke="#000" stroke-width="3.5" stroke-linecap="round"/>
<line x1="1481.15" y1="516.50" x2="1481.15" y2="557.70" stroke="#000" stroke-width="3.5" stroke-linecap="butt"/>
<line x1="1481.15" y1="577.30" x2="1481.15" y2="925.05" stroke="#000" stroke-width="3.5" stroke-linecap="butt"/>
<polygon points="1488.10,555.20 1490.70,557.50 1487.30,561.20 1489.70,564.50 1475.00,579.80 1472.10,576.80 1475.20,573.50 1472.10,570.60" fill="#231815"/>
<line x1="1466.15" y1="925.05" x2="1481.15" y2="925.05" stroke="#000" stroke-width="3.5" stroke-linecap="round"/>
<line x1="1466.15" y1="823.65" x2="1481.15" y2="823.65" stroke="#000" stroke-width="3.5" stroke-linecap="round"/>
<line x1="1466.15" y1="722.25" x2="1481.15" y2="722.25" stroke="#000" stroke-width="3.5" stroke-linecap="round"/>
<line x1="1466.15" y1="620.85" x2="1481.15" y2="620.85" stroke="#000" stroke-width="3.5" stroke-linecap="round"/>
<line x1="1466.15" y1="518.10" x2="1481.15" y2="518.10" stroke="#000" stroke-width="3.5" stroke-linecap="round"/>
<line x1="1473.65" y1="874.35" x2="1481.15" y2="874.35" stroke="#000" stroke-width="3.5" stroke-linecap="round"/>
<line x1="1473.65" y1="772.95" x2="1481.15" y2="772.95" stroke="#000" stroke-width="3.5" stroke-linecap="round"/>
<line x1="1473.65" y1="671.55" x2="1481.15" y2="671.55" stroke="#000" stroke-width="3.5" stroke-linecap="round"/>
<text x="1433.09" y="938.05" font-size="47" fill="#000">0</text>
<text x="1386.09" y="836.65" font-size="47" fill="#000">200</text>
<text x="1386.09" y="735.25" font-size="47" fill="#000">400</text>
<text x="1386.09" y="633.85" font-size="47" fill="#000">600</text>
<text x="1355.69 1380.49 1405.29 1430.09" y="535.30" font-size="47.00" style="font-family:'Liberation Serif', serif" fill="#231815">9550</text>
<rect x="1487.55" y="1279.10" width="50.5" height="142.00" fill="#9e9e9e" stroke="#000" stroke-width="3"/>
<rect x="1550.60" y="1352.10" width="51" height="69.00" fill="#231815" stroke="#000" stroke-width="3"/>
<rect x="1614.15" y="1282.90" width="50.5" height="138.20" fill="#ececec" stroke="#000" stroke-width="3"/>
<rect x="1677.45" y="1270.20" width="50.5" height="150.90" fill="#ececec" stroke="#000" stroke-width="3"/>
<rect x="1740.75" y="1270.70" width="50.5" height="150.40" fill="#ececec" stroke="#000" stroke-width="3"/>
<rect x="1804.05" y="1303.70" width="50.5" height="117.40" fill="#9e9e9e" stroke="#000" stroke-width="3"/>
<rect x="1867.35" y="1279.10" width="50.5" height="142.00" fill="#ececec" stroke="#000" stroke-width="3"/>
<rect x="1930.65" y="1220.00" width="50.5" height="201.10" fill="#ececec" stroke="#000" stroke-width="3"/>
<rect x="1993.95" y="1243.50" width="50.5" height="177.60" fill="#9e9e9e" stroke="#000" stroke-width="3"/>
<rect x="2057.25" y="1191.60" width="50.5" height="229.50" fill="#ececec" stroke="#000" stroke-width="3"/>
<rect x="2120.55" y="1157.90" width="50.5" height="263.20" fill="#ececec" stroke="#000" stroke-width="3"/>
<rect x="2183.85" y="1026.30" width="50.5" height="394.80" fill="#ececec" stroke="#000" stroke-width="3"/>
<rect x="2247.15" y="1233.40" width="50.5" height="187.70" fill="#ececec" stroke="#000" stroke-width="3"/>
<rect x="2310.45" y="1194.60" width="50.5" height="226.50" fill="#ececec" stroke="#000" stroke-width="3"/>
<rect x="2373.75" y="1197.90" width="50.5" height="223.20" fill="#ececec" stroke="#000" stroke-width="3"/>
<rect x="2437.05" y="1168.00" width="50.5" height="253.10" fill="#9e9e9e" stroke="#000" stroke-width="3"/>
<line x1="1481.15" y1="1421.10" x2="2493.95" y2="1421.10" stroke="#000" stroke-width="3.9" stroke-linecap="butt"/>
<line x1="1481.15" y1="1421.10" x2="1481.15" y2="1428.60" stroke="#000" stroke-width="3.5" stroke-linecap="round"/>
<line x1="1544.45" y1="1421.10" x2="1544.45" y2="1428.60" stroke="#000" stroke-width="3.5" stroke-linecap="round"/>
<line x1="1607.75" y1="1421.10" x2="1607.75" y2="1428.60" stroke="#000" stroke-width="3.5" stroke-linecap="round"/>
<line x1="1671.05" y1="1421.10" x2="1671.05" y2="1428.60" stroke="#000" stroke-width="3.5" stroke-linecap="round"/>
<line x1="1734.35" y1="1421.10" x2="1734.35" y2="1428.60" stroke="#000" stroke-width="3.5" stroke-linecap="round"/>
<line x1="1797.65" y1="1421.10" x2="1797.65" y2="1428.60" stroke="#000" stroke-width="3.5" stroke-linecap="round"/>
<line x1="1860.95" y1="1421.10" x2="1860.95" y2="1428.60" stroke="#000" stroke-width="3.5" stroke-linecap="round"/>
<line x1="1924.25" y1="1421.10" x2="1924.25" y2="1428.60" stroke="#000" stroke-width="3.5" stroke-linecap="round"/>
<line x1="1987.55" y1="1421.10" x2="1987.55" y2="1428.60" stroke="#000" stroke-width="3.5" stroke-linecap="round"/>
<line x1="2050.85" y1="1421.10" x2="2050.85" y2="1428.60" stroke="#000" stroke-width="3.5" stroke-linecap="round"/>
<line x1="2114.15" y1="1421.10" x2="2114.15" y2="1428.60" stroke="#000" stroke-width="3.5" stroke-linecap="round"/>
<line x1="2177.45" y1="1421.10" x2="2177.45" y2="1428.60" stroke="#000" stroke-width="3.5" stroke-linecap="round"/>
<line x1="2240.75" y1="1421.10" x2="2240.75" y2="1428.60" stroke="#000" stroke-width="3.5" stroke-linecap="round"/>
<line x1="2304.05" y1="1421.10" x2="2304.05" y2="1428.60" stroke="#000" stroke-width="3.5" stroke-linecap="round"/>
<line x1="2367.35" y1="1421.10" x2="2367.35" y2="1428.60" stroke="#000" stroke-width="3.5" stroke-linecap="round"/>
<line x1="2430.65" y1="1421.10" x2="2430.65" y2="1428.60" stroke="#000" stroke-width="3.5" stroke-linecap="round"/>
<line x1="2493.95" y1="1421.10" x2="2493.95" y2="1428.60" stroke="#000" stroke-width="3.5" stroke-linecap="round"/>
<line x1="1512.80" y1="1421.10" x2="1512.80" y2="1436.10" stroke="#000" stroke-width="3.5" stroke-linecap="round"/>
<line x1="1576.10" y1="1421.10" x2="1576.10" y2="1436.10" stroke="#000" stroke-width="3.5" stroke-linecap="round"/>
<line x1="1639.40" y1="1421.10" x2="1639.40" y2="1436.10" stroke="#000" stroke-width="3.5" stroke-linecap="round"/>
<line x1="1702.70" y1="1421.10" x2="1702.70" y2="1436.10" stroke="#000" stroke-width="3.5" stroke-linecap="round"/>
<line x1="1766.00" y1="1421.10" x2="1766.00" y2="1436.10" stroke="#000" stroke-width="3.5" stroke-linecap="round"/>
<line x1="1829.30" y1="1421.10" x2="1829.30" y2="1436.10" stroke="#000" stroke-width="3.5" stroke-linecap="round"/>
<line x1="1892.60" y1="1421.10" x2="1892.60" y2="1436.10" stroke="#000" stroke-width="3.5" stroke-linecap="round"/>
<line x1="1955.90" y1="1421.10" x2="1955.90" y2="1436.10" stroke="#000" stroke-width="3.5" stroke-linecap="round"/>
<line x1="2019.20" y1="1421.10" x2="2019.20" y2="1436.10" stroke="#000" stroke-width="3.5" stroke-linecap="round"/>
<line x1="2082.50" y1="1421.10" x2="2082.50" y2="1436.10" stroke="#000" stroke-width="3.5" stroke-linecap="round"/>
<line x1="2145.80" y1="1421.10" x2="2145.80" y2="1436.10" stroke="#000" stroke-width="3.5" stroke-linecap="round"/>
<line x1="2209.10" y1="1421.10" x2="2209.10" y2="1436.10" stroke="#000" stroke-width="3.5" stroke-linecap="round"/>
<line x1="2272.40" y1="1421.10" x2="2272.40" y2="1436.10" stroke="#000" stroke-width="3.5" stroke-linecap="round"/>
<line x1="2335.70" y1="1421.10" x2="2335.70" y2="1436.10" stroke="#000" stroke-width="3.5" stroke-linecap="round"/>
<line x1="2399.00" y1="1421.10" x2="2399.00" y2="1436.10" stroke="#000" stroke-width="3.5" stroke-linecap="round"/>
<line x1="2462.30" y1="1421.10" x2="2462.30" y2="1436.10" stroke="#000" stroke-width="3.5" stroke-linecap="round"/>
<line x1="1481.15" y1="1014.00" x2="1481.15" y2="1421.10" stroke="#000" stroke-width="3.5" stroke-linecap="butt"/>
<line x1="1466.15" y1="1421.10" x2="1481.15" y2="1421.10" stroke="#000" stroke-width="3.5" stroke-linecap="round"/>
<line x1="1466.15" y1="1308.10" x2="1481.15" y2="1308.10" stroke="#000" stroke-width="3.5" stroke-linecap="round"/>
<line x1="1466.15" y1="1195.10" x2="1481.15" y2="1195.10" stroke="#000" stroke-width="3.5" stroke-linecap="round"/>
<line x1="1466.15" y1="1082.10" x2="1481.15" y2="1082.10" stroke="#000" stroke-width="3.5" stroke-linecap="round"/>
<line x1="1473.65" y1="1364.60" x2="1481.15" y2="1364.60" stroke="#000" stroke-width="3.5" stroke-linecap="round"/>
<line x1="1473.65" y1="1251.60" x2="1481.15" y2="1251.60" stroke="#000" stroke-width="3.5" stroke-linecap="round"/>
<line x1="1473.65" y1="1138.60" x2="1481.15" y2="1138.60" stroke="#000" stroke-width="3.5" stroke-linecap="round"/>
<line x1="1473.65" y1="1025.60" x2="1481.15" y2="1025.60" stroke="#000" stroke-width="3.5" stroke-linecap="round"/>
<text x="1433.09" y="1434.10" font-size="47" fill="#000">0</text>
<text x="1409.59" y="1321.10" font-size="47" fill="#000">10</text>
<text x="1409.59" y="1208.10" font-size="47" fill="#000">20</text>
<text x="1409.59" y="1095.10" font-size="47" fill="#000">30</text>
<rect x="1487.55" y="1875.30" width="50.5" height="53.80" fill="#9e9e9e" stroke="#000" stroke-width="3"/>
<rect x="1550.60" y="1519.10" width="51" height="410.00" fill="#231815" stroke="#000" stroke-width="3"/>
<rect x="1549.10" y="1517.60" width="54" height="5" fill="#000"/>
<rect x="1614.15" y="1798.30" width="50.5" height="130.80" fill="#ececec" stroke="#000" stroke-width="3"/>
<rect x="1677.45" y="1828.40" width="50.5" height="100.70" fill="#ececec" stroke="#000" stroke-width="3"/>
<rect x="1740.75" y="1855.20" width="50.5" height="73.90" fill="#ececec" stroke="#000" stroke-width="3"/>
<rect x="1804.05" y="1648.30" width="50.5" height="280.80" fill="#9e9e9e" stroke="#000" stroke-width="3"/>
<rect x="1867.35" y="1844.10" width="50.5" height="85.00" fill="#ececec" stroke="#000" stroke-width="3"/>
<rect x="1930.65" y="1825.60" width="50.5" height="103.50" fill="#ececec" stroke="#000" stroke-width="3"/>
<rect x="1993.95" y="1758.60" width="50.5" height="170.50" fill="#9e9e9e" stroke="#000" stroke-width="3"/>
<rect x="2057.25" y="1810.40" width="50.5" height="118.70" fill="#ececec" stroke="#000" stroke-width="3"/>
<rect x="2120.55" y="1872.70" width="50.5" height="56.40" fill="#ececec" stroke="#000" stroke-width="3"/>
<rect x="2183.85" y="1894.00" width="50.5" height="35.10" fill="#ececec" stroke="#000" stroke-width="3"/>
<rect x="2247.15" y="1893.20" width="50.5" height="35.90" fill="#ececec" stroke="#000" stroke-width="3"/>
<rect x="2310.45" y="1915.70" width="50.5" height="13.40" fill="#ececec" stroke="#000" stroke-width="3"/>
<rect x="2373.75" y="1855.30" width="50.5" height="73.80" fill="#ececec" stroke="#000" stroke-width="3"/>
<rect x="2437.05" y="1880.70" width="50.5" height="48.40" fill="#9e9e9e" stroke="#000" stroke-width="3"/>
<line x1="1481.15" y1="1929.10" x2="2493.95" y2="1929.10" stroke="#000" stroke-width="3.9" stroke-linecap="butt"/>
<line x1="1481.15" y1="1929.10" x2="1481.15" y2="1936.60" stroke="#000" stroke-width="3.5" stroke-linecap="round"/>
<line x1="1544.45" y1="1929.10" x2="1544.45" y2="1936.60" stroke="#000" stroke-width="3.5" stroke-linecap="round"/>
<line x1="1607.75" y1="1929.10" x2="1607.75" y2="1936.60" stroke="#000" stroke-width="3.5" stroke-linecap="round"/>
<line x1="1671.05" y1="1929.10" x2="1671.05" y2="1936.60" stroke="#000" stroke-width="3.5" stroke-linecap="round"/>
<line x1="1734.35" y1="1929.10" x2="1734.35" y2="1936.60" stroke="#000" stroke-width="3.5" stroke-linecap="round"/>
<line x1="1797.65" y1="1929.10" x2="1797.65" y2="1936.60" stroke="#000" stroke-width="3.5" stroke-linecap="round"/>
<line x1="1860.95" y1="1929.10" x2="1860.95" y2="1936.60" stroke="#000" stroke-width="3.5" stroke-linecap="round"/>
<line x1="1924.25" y1="1929.10" x2="1924.25" y2="1936.60" stroke="#000" stroke-width="3.5" stroke-linecap="round"/>
<line x1="1987.55" y1="1929.10" x2="1987.55" y2="1936.60" stroke="#000" stroke-width="3.5" stroke-linecap="round"/>
<line x1="2050.85" y1="1929.10" x2="2050.85" y2="1936.60" stroke="#000" stroke-width="3.5" stroke-linecap="round"/>
<line x1="2114.15" y1="1929.10" x2="2114.15" y2="1936.60" stroke="#000" stroke-width="3.5" stroke-linecap="round"/>
<line x1="2177.45" y1="1929.10" x2="2177.45" y2="1936.60" stroke="#000" stroke-width="3.5" stroke-linecap="round"/>
<line x1="2240.75" y1="1929.10" x2="2240.75" y2="1936.60" stroke="#000" stroke-width="3.5" stroke-linecap="round"/>
<line x1="2304.05" y1="1929.10" x2="2304.05" y2="1936.60" stroke="#000" stroke-width="3.5" stroke-linecap="round"/>
<line x1="2367.35" y1="1929.10" x2="2367.35" y2="1936.60" stroke="#000" stroke-width="3.5" stroke-linecap="round"/>
<line x1="2430.65" y1="1929.10" x2="2430.65" y2="1936.60" stroke="#000" stroke-width="3.5" stroke-linecap="round"/>
<line x1="2493.95" y1="1929.10" x2="2493.95" y2="1936.60" stroke="#000" stroke-width="3.5" stroke-linecap="round"/>
<line x1="1512.80" y1="1929.10" x2="1512.80" y2="1944.10" stroke="#000" stroke-width="3.5" stroke-linecap="round"/>
<line x1="1576.10" y1="1929.10" x2="1576.10" y2="1944.10" stroke="#000" stroke-width="3.5" stroke-linecap="round"/>
<line x1="1639.40" y1="1929.10" x2="1639.40" y2="1944.10" stroke="#000" stroke-width="3.5" stroke-linecap="round"/>
<line x1="1702.70" y1="1929.10" x2="1702.70" y2="1944.10" stroke="#000" stroke-width="3.5" stroke-linecap="round"/>
<line x1="1766.00" y1="1929.10" x2="1766.00" y2="1944.10" stroke="#000" stroke-width="3.5" stroke-linecap="round"/>
<line x1="1829.30" y1="1929.10" x2="1829.30" y2="1944.10" stroke="#000" stroke-width="3.5" stroke-linecap="round"/>
<line x1="1892.60" y1="1929.10" x2="1892.60" y2="1944.10" stroke="#000" stroke-width="3.5" stroke-linecap="round"/>
<line x1="1955.90" y1="1929.10" x2="1955.90" y2="1944.10" stroke="#000" stroke-width="3.5" stroke-linecap="round"/>
<line x1="2019.20" y1="1929.10" x2="2019.20" y2="1944.10" stroke="#000" stroke-width="3.5" stroke-linecap="round"/>
<line x1="2082.50" y1="1929.10" x2="2082.50" y2="1944.10" stroke="#000" stroke-width="3.5" stroke-linecap="round"/>
<line x1="2145.80" y1="1929.10" x2="2145.80" y2="1944.10" stroke="#000" stroke-width="3.5" stroke-linecap="round"/>
<line x1="2209.10" y1="1929.10" x2="2209.10" y2="1944.10" stroke="#000" stroke-width="3.5" stroke-linecap="round"/>
<line x1="2272.40" y1="1929.10" x2="2272.40" y2="1944.10" stroke="#000" stroke-width="3.5" stroke-linecap="round"/>
<line x1="2335.70" y1="1929.10" x2="2335.70" y2="1944.10" stroke="#000" stroke-width="3.5" stroke-linecap="round"/>
<line x1="2399.00" y1="1929.10" x2="2399.00" y2="1944.10" stroke="#000" stroke-width="3.5" stroke-linecap="round"/>
<line x1="2462.30" y1="1929.10" x2="2462.30" y2="1944.10" stroke="#000" stroke-width="3.5" stroke-linecap="round"/>
<line x1="1481.15" y1="1521.00" x2="1481.15" y2="1561.10" stroke="#000" stroke-width="3.5" stroke-linecap="butt"/>
<line x1="1481.15" y1="1581.00" x2="1481.15" y2="1929.10" stroke="#000" stroke-width="3.5" stroke-linecap="butt"/>
<polygon points="1488.10,1558.75 1490.70,1561.05 1487.30,1564.75 1489.70,1568.05 1475.00,1583.35 1472.10,1580.35 1475.20,1577.05 1472.10,1574.15" fill="#231815"/>
<line x1="1466.15" y1="1929.10" x2="1481.15" y2="1929.10" stroke="#000" stroke-width="3.5" stroke-linecap="round"/>
<line x1="1466.15" y1="1827.50" x2="1481.15" y2="1827.50" stroke="#000" stroke-width="3.5" stroke-linecap="round"/>
<line x1="1466.15" y1="1725.90" x2="1481.15" y2="1725.90" stroke="#000" stroke-width="3.5" stroke-linecap="round"/>
<line x1="1466.15" y1="1624.30" x2="1481.15" y2="1624.30" stroke="#000" stroke-width="3.5" stroke-linecap="round"/>
<line x1="1466.15" y1="1522.80" x2="1481.15" y2="1522.80" stroke="#000" stroke-width="3.5" stroke-linecap="round"/>
<line x1="1473.65" y1="1878.30" x2="1481.15" y2="1878.30" stroke="#000" stroke-width="3.5" stroke-linecap="round"/>
<line x1="1473.65" y1="1776.70" x2="1481.15" y2="1776.70" stroke="#000" stroke-width="3.5" stroke-linecap="round"/>
<line x1="1473.65" y1="1675.10" x2="1481.15" y2="1675.10" stroke="#000" stroke-width="3.5" stroke-linecap="round"/>
<text x="1433.09" y="1942.10" font-size="47" fill="#000">0</text>
<text x="1386.09" y="1840.50" font-size="47" fill="#000">500</text>
<text x="1362.59" y="1738.90" font-size="47" fill="#000">1000</text>
<text x="1362.59" y="1637.30" font-size="47" fill="#000">1500</text>
<text x="1356.00 1381.05 1406.09 1431.14" y="1542.30" font-size="47.00" style="font-family:'Liberation Serif', serif" fill="#231815">7165</text>
<rect x="786.6" y="40.2" width="125.1" height="35.3" fill="#8c8c8c" stroke="#1a1a8c" stroke-width="1"/>
<rect x="787.4" y="91.2" width="126.5" height="35" fill="#eeeeee" stroke="#231815" stroke-width="1.5"/>
<rect x="787.4" y="139.1" width="125.9" height="35.9" fill="#231815"/>
<circle cx="221.30" cy="1987.90" r="22.4" fill="none" stroke="#231815" stroke-width="1.9"/>
<text x="221.30" y="2003.10" text-anchor="middle" font-size="42" fill="#231815">1</text>
<polygon points="282.10,1959.00 287.65,1977.38 305.63,1977.38 291.09,1988.74 296.64,2007.12 282.10,1995.76 267.56,2007.12 273.11,1988.74 258.57,1977.38 276.55,1977.38" fill="#231815"/>
<circle cx="343.60" cy="1987.90" r="22.4" fill="none" stroke="#231815" stroke-width="1.9"/>
<text x="343.60" y="2003.10" text-anchor="middle" font-size="42" fill="#231815">2</text>
<circle cx="413.40" cy="1987.90" r="22.4" fill="none" stroke="#231815" stroke-width="1.9"/>
<text x="413.40" y="2003.10" text-anchor="middle" font-size="42" fill="#231815">3</text>
<circle cx="479.40" cy="1987.90" r="22.4" fill="none" stroke="#231815" stroke-width="1.9"/>
<text x="479.40" y="2003.10" text-anchor="middle" font-size="42" fill="#231815">4</text>
<circle cx="541.00" cy="1987.90" r="22.4" fill="none" stroke="#231815" stroke-width="1.9"/>
<text x="541.00" y="2003.10" text-anchor="middle" font-size="42" fill="#231815">5</text>
<circle cx="603.30" cy="1987.90" r="22.4" fill="none" stroke="#231815" stroke-width="1.9"/>
<text x="603.30" y="2003.10" text-anchor="middle" font-size="42" fill="#231815">6</text>
<circle cx="666.80" cy="1987.90" r="22.4" fill="none" stroke="#231815" stroke-width="1.9"/>
<text x="666.80" y="2003.10" text-anchor="middle" font-size="42" fill="#231815">7</text>
<circle cx="731.50" cy="1987.90" r="22.4" fill="none" stroke="#231815" stroke-width="1.9"/>
<text x="731.50" y="2003.10" text-anchor="middle" font-size="42" fill="#231815">8</text>
<circle cx="797.00" cy="1987.90" r="22.4" fill="none" stroke="#231815" stroke-width="1.9"/>
<text x="797.00" y="2003.10" text-anchor="middle" font-size="42" fill="#231815">9</text>
<circle cx="862.20" cy="1987.90" r="22.4" fill="none" stroke="#231815" stroke-width="1.9"/>
<text x="862.20" y="2003.10" text-anchor="middle" font-size="42" fill="#231815" textLength="42" lengthAdjust="spacingAndGlyphs">10</text>
<circle cx="922.70" cy="1987.90" r="22.4" fill="none" stroke="#231815" stroke-width="1.9"/>
<text x="922.70" y="2003.10" text-anchor="middle" font-size="42" fill="#231815" textLength="42" lengthAdjust="spacingAndGlyphs">11</text>
<circle cx="987.60" cy="1987.90" r="22.4" fill="none" stroke="#231815" stroke-width="1.9"/>
<text x="987.60" y="2003.10" text-anchor="middle" font-size="42" fill="#231815" textLength="42" lengthAdjust="spacingAndGlyphs">12</text>
<circle cx="1055.50" cy="1987.90" r="22.4" fill="none" stroke="#231815" stroke-width="1.9"/>
<text x="1055.50" y="2003.10" text-anchor="middle" font-size="42" fill="#231815" textLength="42" lengthAdjust="spacingAndGlyphs">13</text>
<circle cx="1117.80" cy="1987.90" r="22.4" fill="none" stroke="#231815" stroke-width="1.9"/>
<text x="1117.80" y="2003.10" text-anchor="middle" font-size="42" fill="#231815" textLength="42" lengthAdjust="spacingAndGlyphs">14</text>
<circle cx="1179.40" cy="1987.90" r="22.4" fill="none" stroke="#231815" stroke-width="1.9"/>
<text x="1179.40" y="2003.10" text-anchor="middle" font-size="42" fill="#231815" textLength="42" lengthAdjust="spacingAndGlyphs">15</text>
<circle cx="1514.80" cy="1990.20" r="22.4" fill="none" stroke="#231815" stroke-width="1.9"/>
<text x="1514.80" y="2005.40" text-anchor="middle" font-size="42" fill="#231815">1</text>
<polygon points="1575.60,1961.60 1581.15,1979.98 1599.13,1979.98 1584.59,1991.34 1590.14,2009.72 1575.60,1998.36 1561.06,2009.72 1566.61,1991.34 1552.07,1979.98 1570.05,1979.98" fill="#231815"/>
<circle cx="1637.10" cy="1990.20" r="22.4" fill="none" stroke="#231815" stroke-width="1.9"/>
<text x="1637.10" y="2005.40" text-anchor="middle" font-size="42" fill="#231815">2</text>
<circle cx="1706.90" cy="1990.20" r="22.4" fill="none" stroke="#231815" stroke-width="1.9"/>
<text x="1706.90" y="2005.40" text-anchor="middle" font-size="42" fill="#231815">3</text>
<circle cx="1772.90" cy="1990.20" r="22.4" fill="none" stroke="#231815" stroke-width="1.9"/>
<text x="1772.90" y="2005.40" text-anchor="middle" font-size="42" fill="#231815">4</text>
<circle cx="1834.50" cy="1990.20" r="22.4" fill="none" stroke="#231815" stroke-width="1.9"/>
<text x="1834.50" y="2005.40" text-anchor="middle" font-size="42" fill="#231815">5</text>
<circle cx="1896.80" cy="1990.20" r="22.4" fill="none" stroke="#231815" stroke-width="1.9"/>
<text x="1896.80" y="2005.40" text-anchor="middle" font-size="42" fill="#231815">6</text>
<circle cx="1960.30" cy="1990.20" r="22.4" fill="none" stroke="#231815" stroke-width="1.9"/>
<text x="1960.30" y="2005.40" text-anchor="middle" font-size="42" fill="#231815">7</text>
<circle cx="2025.00" cy="1990.20" r="22.4" fill="none" stroke="#231815" stroke-width="1.9"/>
<text x="2025.00" y="2005.40" text-anchor="middle" font-size="42" fill="#231815">8</text>
<circle cx="2090.50" cy="1990.20" r="22.4" fill="none" stroke="#231815" stroke-width="1.9"/>
<text x="2090.50" y="2005.40" text-anchor="middle" font-size="42" fill="#231815">9</text>
<circle cx="2155.70" cy="1990.20" r="22.4" fill="none" stroke="#231815" stroke-width="1.9"/>
<text x="2155.70" y="2005.40" text-anchor="middle" font-size="42" fill="#231815" textLength="42" lengthAdjust="spacingAndGlyphs">10</text>
<circle cx="2216.20" cy="1990.20" r="22.4" fill="none" stroke="#231815" stroke-width="1.9"/>
<text x="2216.20" y="2005.40" text-anchor="middle" font-size="42" fill="#231815" textLength="42" lengthAdjust="spacingAndGlyphs">11</text>
<circle cx="2281.10" cy="1990.20" r="22.4" fill="none" stroke="#231815" stroke-width="1.9"/>
<text x="2281.10" y="2005.40" text-anchor="middle" font-size="42" fill="#231815" textLength="42" lengthAdjust="spacingAndGlyphs">12</text>
<circle cx="2349.00" cy="1990.20" r="22.4" fill="none" stroke="#231815" stroke-width="1.9"/>
<text x="2349.00" y="2005.40" text-anchor="middle" font-size="42" fill="#231815" textLength="42" lengthAdjust="spacingAndGlyphs">13</text>
<circle cx="2411.30" cy="1990.20" r="22.4" fill="none" stroke="#231815" stroke-width="1.9"/>
<text x="2411.30" y="2005.40" text-anchor="middle" font-size="42" fill="#231815" textLength="42" lengthAdjust="spacingAndGlyphs">14</text>
<circle cx="2472.90" cy="1990.20" r="22.4" fill="none" stroke="#231815" stroke-width="1.9"/>
<text x="2472.90" y="2005.40" text-anchor="middle" font-size="42" fill="#231815" textLength="42" lengthAdjust="spacingAndGlyphs">15</text>
<text transform="translate(44.71,409.49) rotate(-90) scale(0.9,1)" x="-0.15" y="0" font-size="49.93" style="font-family:'Noto Serif CJK SC', 'Liberation Serif', serif" fill="#231815">χ</text>
<text transform="rotate(-90)" x="-382.20 -371.18" y="53.50" font-size="24.85" style="font-family:'Liberation Serif', serif" fill="#231815">lf</text>
<text transform="rotate(-90)" x="-341.60" y="43.39" font-size="48.42" style="font-family:'Liberation Serif', serif" fill="#231815">(</text>
<text transform="rotate(-90)" x="-314.61" y="43.10" font-size="48.17" style="font-family:'Liberation Serif', serif" fill="#231815">1</text>
<text transform="rotate(-90)" x="-287.40" y="43.13" font-size="48.61" style="font-family:'Liberation Serif', serif" fill="#231815">0</text>
<text transform="rotate(-90)" x="-259.34 -245.80" y="17.88" font-size="22.53" style="font-family:'Liberation Serif', serif" fill="#231815">-8</text>
<text transform="rotate(-90)" x="-234.89" y="43.10" font-size="44.78" style="font-family:'Liberation Serif', serif" fill="#231815">m</text>
<text transform="rotate(-90)" x="-195.66" y="18.38" font-size="22.62" style="font-family:'Liberation Serif', serif" fill="#231815">3</text>
<text transform="rotate(-90)" x="-181.52" y="43.11" font-size="50.53" style="font-family:'Liberation Serif', serif" fill="#231815">/</text>
<text transform="rotate(-90)" x="-165.42" y="43.10" font-size="47.27" style="font-family:'Liberation Serif', serif" fill="#231815">k</text>
<text transform="rotate(-90)" x="-136.89" y="44.31" font-size="44.44" style="font-family:'Liberation Serif', serif" fill="#231815">g</text>
<text transform="rotate(-90)" x="-112.01" y="43.55" font-size="48.64" style="font-family:'Liberation Serif', serif" fill="#231815">)</text>
<text transform="rotate(-90)" x="-957.32 -927.62 -908.32 -873.46" y="44.35" font-size="46.59" style="font-family:'Liberation Serif', serif" fill="#231815">SIRM</text>
<text transform="rotate(-90)" x="-807.51" y="44.47" font-size="48.53" style="font-family:'Liberation Serif', serif" fill="#231815">(</text>
<text transform="rotate(-90)" x="-790.01" y="45.00" font-size="48.93" style="font-family:'Liberation Serif', serif" fill="#231815">1</text>
<text transform="rotate(-90)" x="-763.10" y="44.53" font-size="48.61" style="font-family:'Liberation Serif', serif" fill="#231815">0</text>
<text transform="rotate(-90)" x="-735.90 -727.64" y="19.86" font-size="24.38" style="font-family:'Liberation Serif', serif" fill="#231815">-5</text>
<text transform="rotate(-90)" x="-712.35" y="45.00" font-size="49.69" style="font-family:'Liberation Serif', serif" fill="#231815">A</text>
<text transform="rotate(-90)" x="-673.82" y="45.00" font-size="48.81" style="font-family:'Liberation Serif', serif" fill="#231815">m</text>
<text transform="rotate(-90)" x="-634.78" y="20.10" font-size="24.47" style="font-family:'Liberation Serif', serif" fill="#231815">2</text>
<text transform="rotate(-90)" x="-619.50" y="44.50" font-size="51.13" style="font-family:'Liberation Serif', serif" fill="#231815">/</text>
<text transform="rotate(-90)" x="-604.65" y="45.00" font-size="48.57" style="font-family:'Liberation Serif', serif" fill="#231815">k</text>
<text transform="rotate(-90)" x="-576.74" y="44.81" font-size="44.44" style="font-family:'Liberation Serif', serif" fill="#231815">g</text>
<text transform="rotate(-90)" x="-550.57" y="44.16" font-size="48.08" style="font-family:'Liberation Serif', serif" fill="#231815">)</text>
<text transform="translate(44.51,1333.61) rotate(-90) scale(0.9,1)" x="-0.15" y="0" font-size="48.99" style="font-family:'Noto Serif CJK SC', 'Liberation Serif', serif" fill="#231815">χ</text>
<text transform="rotate(-90)" x="-1306.35 -1288.31 -1271.70" y="53.90" font-size="26.05" style="font-family:'Liberation Serif', serif" fill="#231815">ARM</text>
<text transform="rotate(-90)" x="-1244.12" y="43.11" font-size="50.53" style="font-family:'Liberation Serif', serif" fill="#231815">/</text>
<text transform="translate(44.51,1228.06) rotate(-90) scale(0.9,1)" x="-0.15" y="0" font-size="48.99" style="font-family:'Noto Serif CJK SC', 'Liberation Serif', serif" fill="#231815">χ</text>
<text transform="rotate(-90)" x="-1203.79 -1189.93" y="53.90" font-size="24.43" style="font-family:'Liberation Serif', serif" fill="#231815">lf</text>
<text transform="rotate(-90)" x="-1771.20" y="42.72" font-size="49.56" style="font-family:'Liberation Serif', serif" fill="#231815">S</text>
<text transform="translate(1344.27,303.98) rotate(-90) scale(0.9,1)" x="-0.15" y="0" font-size="49.66" style="font-family:'Noto Serif CJK SC', 'Liberation Serif', serif" fill="#231815">χ</text>
<text transform="rotate(-90)" x="-277.92 -266.14" y="1353.07" font-size="23.25" style="font-family:'Liberation Serif', serif" fill="#231815">fd</text>
<text transform="rotate(-90)" x="-252.19" y="1342.55" font-size="48.95" style="font-family:'Liberation Serif', serif" fill="#231815">%</text>
<text transform="rotate(-90)" x="-186.01" y="1342.46" font-size="47.64" style="font-family:'Liberation Serif', serif" fill="#231815">(</text>
<text transform="rotate(-90)" x="-169.36" y="1342.54" font-size="49.84" style="font-family:'Liberation Serif', serif" fill="#231815">%</text>
<text transform="rotate(-90)" x="-126.35" y="1342.46" font-size="47.64" style="font-family:'Liberation Serif', serif" fill="#231815">)</text>
<text transform="translate(1346.97,886.41) rotate(-90) scale(0.9,1)" x="-0.15" y="0" font-size="50.61" style="font-family:'Noto Serif CJK SC', 'Liberation Serif', serif" fill="#231815">χ</text>
<text transform="rotate(-90)" x="-859.26 -840.31 -822.82" y="1356.50" font-size="26.66" style="font-family:'Liberation Serif', serif" fill="#231815">ARM</text>
<text transform="rotate(-90)" x="-796.68" y="1345.53" font-size="49.19" style="font-family:'Liberation Serif', serif" fill="#231815">(</text>
<text transform="rotate(-90)" x="-769.82" y="1345.60" font-size="50.29" style="font-family:'Liberation Serif', serif" fill="#231815">1</text>
<text transform="rotate(-90)" x="-741.39" y="1345.61" font-size="49.94" style="font-family:'Liberation Serif', serif" fill="#231815">0</text>
<text transform="rotate(-90)" x="-714.40 -705.06" y="1320.56" font-size="24.16" style="font-family:'Liberation Serif', serif" fill="#231815">-8</text>
<text transform="rotate(-90)" x="-691.00" y="1346.10" font-size="47.75" style="font-family:'Liberation Serif', serif" fill="#231815">m</text>
<text transform="rotate(-90)" x="-650.62" y="1320.56" font-size="24.26" style="font-family:'Liberation Serif', serif" fill="#231815">3</text>
<text transform="rotate(-90)" x="-636.20" y="1345.59" font-size="52.17" style="font-family:'Liberation Serif', serif" fill="#231815">/</text>
<text transform="rotate(-90)" x="-620.80" y="1346.10" font-size="48.57" style="font-family:'Liberation Serif', serif" fill="#231815">k</text>
<text transform="rotate(-90)" x="-591.59" y="1346.63" font-size="41.56" style="font-family:'Liberation Serif', serif" fill="#231815">g</text>
<text transform="rotate(-90)" x="-566.62" y="1345.18" font-size="48.97" style="font-family:'Liberation Serif', serif" fill="#231815">)</text>
<text transform="translate(1346.89,1443.78) rotate(-90) scale(0.9,1)" x="-0.15" y="0" font-size="50.07" style="font-family:'Noto Serif CJK SC', 'Liberation Serif', serif" fill="#231815">χ</text>
<text transform="rotate(-90)" x="-1416.56 -1398.10 -1381.09" y="1355.80" font-size="26.51" style="font-family:'Liberation Serif', serif" fill="#231815">ARM</text>
<text transform="rotate(-90)" x="-1355.01" y="1344.32" font-size="49.03" style="font-family:'Liberation Serif', serif" fill="#231815">/</text>
<text transform="rotate(-90)" x="-1339.62 -1310.06 -1291.23 -1256.34" y="1344.93" font-size="48.07" style="font-family:'Liberation Serif', serif" fill="#231815">SIRM</text>
<text transform="rotate(-90)" x="-1200.32" y="1345.39" font-size="47.97" style="font-family:'Liberation Serif', serif" fill="#231815">(</text>
<text transform="rotate(-90)" x="-1184.60" y="1344.40" font-size="45.29" style="font-family:'Liberation Serif', serif" fill="#231815">1</text>
<text transform="rotate(-90)" x="-1155.37" y="1343.96" font-size="45.49" style="font-family:'Liberation Serif', serif" fill="#231815">0</text>
<text transform="rotate(-90)" x="-1129.65 -1121.19" y="1320.75" font-size="25.58" style="font-family:'Liberation Serif', serif" fill="#231815">-5</text>
<text transform="rotate(-90)" x="-1105.80" y="1344.40" font-size="44.57" style="font-family:'Liberation Serif', serif" fill="#231815">m</text>
<text transform="rotate(-90)" x="-1063.96" y="1343.96" font-size="44.70" style="font-family:'Liberation Serif', serif" fill="#231815">/</text>
<text transform="rotate(-90)" x="-1048.76" y="1344.40" font-size="45.29" style="font-family:'Liberation Serif', serif" fill="#231815">A</text>
<text transform="rotate(-90)" x="-1011.46" y="1345.39" font-size="47.97" style="font-family:'Liberation Serif', serif" fill="#231815">)</text>
<text transform="rotate(-90)" x="-1935.19 -1897.84 -1879.28 -1844.60" y="1342.10" font-size="48.26" style="font-family:'Liberation Serif', serif" fill="#231815">HIRM</text>
<text transform="rotate(-90)" x="-1787.72" y="1341.97" font-size="47.09" style="font-family:'Liberation Serif', serif" fill="#231815">(</text>
<text transform="rotate(-90)" x="-1770.55" y="1342.10" font-size="46.81" style="font-family:'Liberation Serif', serif" fill="#231815">1</text>
<text transform="rotate(-90)" x="-1744.90" y="1341.83" font-size="48.01" style="font-family:'Liberation Serif', serif" fill="#231815">0</text>
<text transform="rotate(-90)" x="-1717.60 -1707.44" y="1318.06" font-size="24.38" style="font-family:'Liberation Serif', serif" fill="#231815">-5</text>
<text transform="rotate(-90)" x="-1691.40" y="1342.30" font-size="48.02" style="font-family:'Liberation Serif', serif" fill="#231815">A</text>
<text transform="rotate(-90)" x="-1652.15" y="1342.30" font-size="47.75" style="font-family:'Liberation Serif', serif" fill="#231815">m</text>
<text transform="rotate(-90)" x="-1612.23" y="1318.30" font-size="24.47" style="font-family:'Liberation Serif', serif" fill="#231815">2</text>
<text transform="rotate(-90)" x="-1599.58" y="1341.83" font-size="48.43" style="font-family:'Liberation Serif', serif" fill="#231815">/</text>
<text transform="rotate(-90)" x="-1583.21" y="1342.30" font-size="45.69" style="font-family:'Liberation Serif', serif" fill="#231815">k</text>
<text transform="rotate(-90)" x="-1554.84" y="1343.52" font-size="43.48" style="font-family:'Liberation Serif', serif" fill="#231815">g</text>
<text transform="rotate(-90)" x="-1530.52" y="1342.48" font-size="48.97" style="font-family:'Liberation Serif', serif" fill="#231815">)</text>
<text transform="rotate(-90)" x="-1741.74 -1728.38 -1715.02 -1698.56 -1686.75 -1674.93" y="55.30" font-size="28.00" style="font-family:'Liberation Serif', serif" fill="#231815">-ratio</text>
<text x="976.55 1016.88 1037.84 1051.57 1074.97 1093.55 1107.29 1123.43 1144.39 1165.34" y="68.90" font-size="43.50" style="font-family:'Liberation Serif', serif" fill="#231815">Mainstream</text>
<text x="975.21 1003.08 1018.87 1032.25 1055.30 1078.35 1091.73 1112.34 1128.12" y="122.90" font-size="43.50" style="font-family:'Liberation Serif', serif" fill="#231815">Tributary</text>
<text x="977.85 1008.72 1029.88 1048.66 1069.83 1083.77" y="170.70" font-size="43.50" style="font-family:'Liberation Serif', serif" fill="#231815">Basalt</text>
</svg>
</body></html>
